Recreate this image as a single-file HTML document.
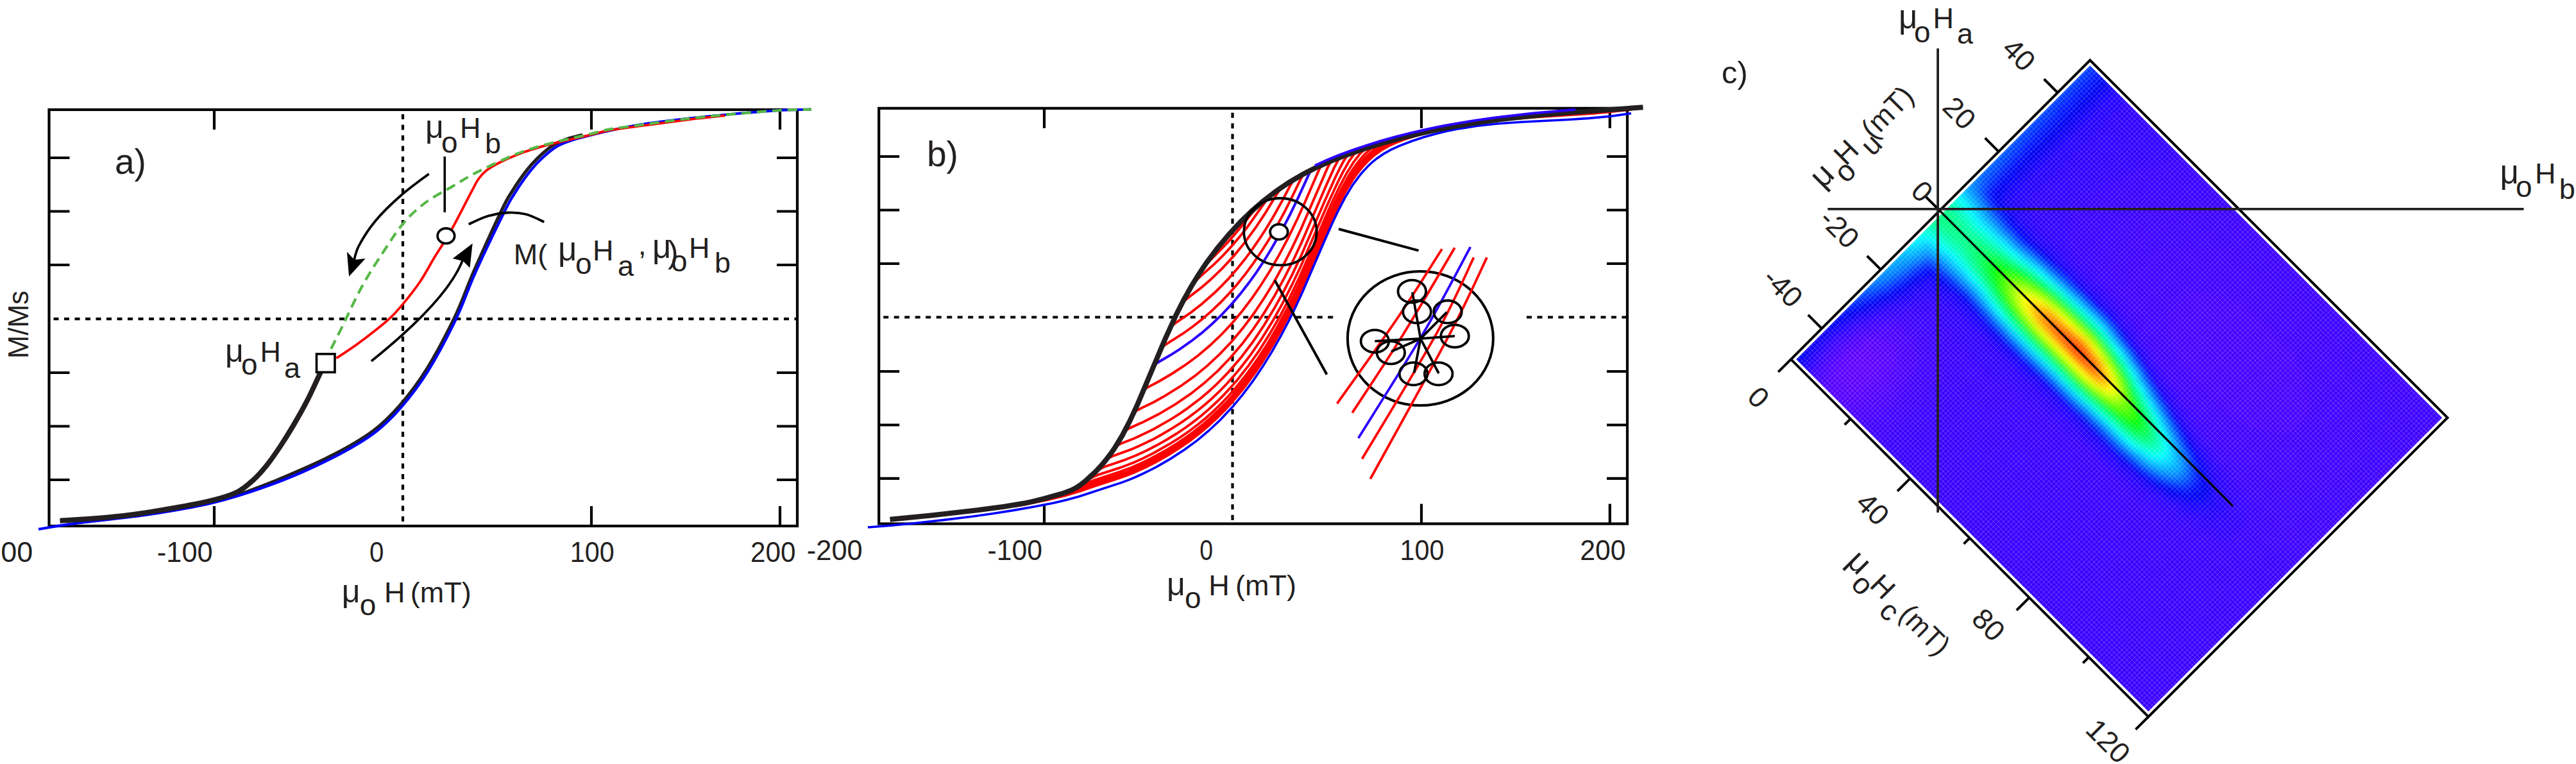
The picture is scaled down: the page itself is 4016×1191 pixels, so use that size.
<!DOCTYPE html>
<html><head><meta charset="utf-8"><style>
html,body{margin:0;padding:0;background:#fff;}
body{width:4016px;height:1191px;overflow:hidden;}
svg{display:block;}
text{font-family:"Liberation Sans",sans-serif;fill:#231f20;}
</style></head><body>
<svg width="4016" height="1191" viewBox="0 0 4016 1191">
<rect width="4016" height="1191" fill="#fff"/>
<rect x="76.5" y="171" width="1166.5" height="649" fill="none" stroke="#000" stroke-width="4.2"/><path d="M76.5 246h32M1243 246h-32M76.5 329.5h32M1243 329.5h-32M76.5 413h32M1243 413h-32M76.5 581h32M1243 581h-32M76.5 664.5h32M1243 664.5h-32M76.5 748h32M1243 748h-32M334 171v31M334 820v-31M922 171v31M922 820v-31M1216 171v31M1216 820v-31" stroke="#000" stroke-width="4.2" fill="none"/><path d="M76.5 497.2H1243M628 171V820" stroke="#000" stroke-width="4.2" stroke-dasharray="8 8.5" stroke-dashoffset="-7" fill="none"/><text x="244.8" y="875.5" font-size="45" textLength="86.9" lengthAdjust="spacingAndGlyphs">-100</text><text x="576" y="875.5" font-size="45" textLength="22.4" lengthAdjust="spacingAndGlyphs">0</text><text x="888.8" y="875.5" font-size="45" textLength="69" lengthAdjust="spacingAndGlyphs">100</text><text x="1169.9" y="875.5" font-size="45" textLength="70.5" lengthAdjust="spacingAndGlyphs">200</text><text x="51.3" y="875.5" font-size="45" text-anchor="end">-200</text><text transform="translate(43.6 559) rotate(-90)" font-size="45" textLength="106" lengthAdjust="spacingAndGlyphs">M/Ms</text><text x="532.7" y="938.5" font-size="50">μ</text><text x="560.7" y="958.5" font-size="46">o</text><text x="599" y="938.5" font-size="45">H</text><text x="639.7" y="938.5" font-size="45">(mT)</text><text x="179" y="270.5" font-size="55">a)</text><path d="M368.2 772.8C379.3 768.5 410 757.7 435.1 747.1C460.2 736.5 494.4 721.9 518.8 709.4C543.2 696.9 564.2 684.7 581.7 671.8C599.2 658.9 609.5 648.1 623.5 632C637.5 615.9 651.1 598.4 665.4 575.4C679.7 552.4 697 519.4 709.3 493.8C721.6 468.2 727.2 449.4 739.4 421.6C751.6 393.8 772.8 347.3 782.6 326.8C792.4 306.3 793.1 307.2 798.3 298.6C803.5 290 808.8 282.2 814 275C819.2 267.8 824.5 261.3 829.7 255.4C835 249.5 839.9 244.5 845.5 239.6C851.1 234.7 856.9 229.7 863.1 225.9C869.3 222.2 875.3 219.7 882.8 217.1C890.3 214.5 904 211.4 908.2 210.2" stroke="#231f20" stroke-width="5.2" fill="none"/><path d="M60 824.9C70.5 823.3 94.9 818.9 122.8 815.2C150.7 811.5 192.6 807.9 227.5 802.7C262.4 797.5 297.3 792.5 332.2 783.8C367.1 775.1 405.5 762.2 436.9 750.3C468.3 738.4 496.2 725.1 520.6 712.6C545 700.1 566 687.9 583.5 675C601 662.1 611.3 651.3 625.3 635.2C639.2 619.1 652.9 601.6 667.2 578.6C681.5 555.6 698.8 522.6 711.1 497C723.4 471.4 728.7 452.6 741.2 424.8C753.8 397 776.2 350.5 786.4 330C796.5 309.5 796.9 310.4 802.1 301.8C807.3 293.2 812.6 285.4 817.8 278.2C823 271 828.2 264.5 833.5 258.6C838.8 252.7 843.7 247.7 849.3 242.8C854.9 237.9 860.7 232.8 866.9 229.1C873.1 225.3 879.4 222.9 886.6 220.3C893.8 217.7 899.5 216.2 910.1 213.4C920.7 210.6 934.4 206.9 950 203.6C965.6 200.3 982.8 196.7 1003.5 193.5C1024.2 190.3 1050.6 187.2 1074.2 184.5C1097.8 181.8 1121.4 179.6 1145 177.5C1168.6 175.4 1195.6 173.2 1215.6 172C1235.6 170.8 1256.8 170.8 1265 170.6" stroke="#0000ff" stroke-width="4.2" fill="none"/><path d="M93.5 811.9C108.8 810.7 156.3 808.1 185.6 804.8C214.9 801.5 245 796.4 269.4 792.2C293.8 788 315.4 783.8 332.2 779.6C348.9 775.4 359.4 772.2 369.9 767C380.4 761.8 387.3 755.2 395 748.2C402.7 741.2 409 733.9 416 725.2C423 716.5 429.9 706.4 436.9 695.9C443.9 685.4 450.8 674.3 457.8 662.4C464.8 650.5 471.8 638.3 478.8 624.7C485.8 611.1 494.9 590.5 499.7 580.7C504.5 570.9 506.4 568.5 507.7 566" stroke="#231f20" stroke-width="8" fill="none"/><path d="M524.5 558.4C530.4 554.4 546.5 544.3 560 534.3C573.5 524.2 594.3 508.1 605.6 498.1C616.9 488.2 619.5 484.3 627.6 474.6C635.7 464.9 646.1 452.1 654.3 440C662.5 427.9 671 411.7 677 401.8C683 391.9 685.3 388.8 690.1 380.9C694.9 373 698.4 368.2 705.8 354.7C713.2 341.2 727.9 312.3 734.6 299.7C741.3 287.1 742.1 284.6 746 279C749.9 273.4 752.6 270.2 758 266C763.4 261.8 770.3 257.8 778.6 253.5C786.9 249.2 798.2 244.2 808 240.4C817.8 236.6 827.7 233.6 837.5 230.6C847.3 227.6 857.1 225.1 866.9 222.7C876.7 220.2 887.2 218 896.4 215.9C905.6 213.8 913 212.1 921.9 210C930.8 207.9 936.4 205.5 950 203.1C963.6 200.7 982.8 198.5 1003.5 195.7C1024.2 192.9 1053.1 188.9 1074.2 186.3C1095.3 183.7 1120.7 181.2 1130 180.2" stroke="#ff0000" stroke-width="3.8" fill="none"/><path d="M507.7 566C508.5 563.5 508.7 559.7 512.5 551.2C516.3 542.7 521.9 532.6 530.6 515.1C539.3 497.6 553.2 466.9 564.5 446.3C575.8 425.7 587.6 407.9 598.5 391.3C609.4 374.7 619 359.5 629.9 346.8C640.8 334.1 651.7 324.5 663.9 315.4C676.1 306.2 690.6 299.3 703.2 291.9C715.8 284.4 726.7 277.4 739.3 270.7C751.9 264 767.1 257 778.6 251.7C790.1 246.4 798.2 242.7 808 238.9C817.8 235.1 827.7 232.1 837.5 229.1C847.3 226.1 857.1 223.6 866.9 221.2C876.7 218.8 887.2 216.5 896.4 214.4C905.6 212.3 913 210.6 921.9 208.5C930.8 206.4 936.4 204 950 201.6C963.6 199.2 982.8 197 1003.5 194.2C1024.2 191.4 1050.6 187.6 1074.2 184.8C1097.8 182.1 1121.4 179.8 1145 177.7C1168.6 175.6 1195.6 173.2 1215.6 172C1235.6 170.8 1256.8 170.8 1265 170.6" stroke="#56b947" stroke-width="4.2" fill="none" stroke-dasharray="15 9"/><rect x="493.5" y="551.8" width="28.5" height="28.5" fill="#fff" stroke="#000" stroke-width="3.6"/><ellipse cx="695.4" cy="367.7" rx="13.3" ry="11.8" fill="#fff" stroke="#000" stroke-width="3.7"/><path d="M693.3 244V331" stroke="#000" stroke-width="3.6"/><path d="M668.7 270.9C661.4 276.6 638.6 292.8 624.7 305C610.8 317.2 596.3 331.1 585.4 344.2C574.5 357.3 565 372.5 559.3 383.5C553.6 394.5 552.4 405.6 551 410" stroke="#000" stroke-width="3.8" fill="none"/><path d="M540.9 392.6L544.1 431.1L569.7 403.1L552.5 405Z" fill="#000"/><path d="M578.9 563Q703.9 462.7 724 398" stroke="#000" stroke-width="3.8" fill="none"/><path d="M705.8 403.1L736.7 379.6L732.5 417.5L722 407Z" fill="#000"/><path d="M730.7 349.5C735.6 347.4 749.9 340 760 337C770.1 334 781.4 332 791.4 331.5C801.4 331 810.5 331.6 820 334C829.5 336.4 843.6 344 848.3 346" stroke="#000" stroke-width="3.8" fill="none"/><text x="663" y="215.4" font-size="50">μ</text><text x="688" y="238" font-size="46">o</text><text x="717" y="215.4" font-size="45">H</text><text x="756" y="239" font-size="45">b</text><text x="351" y="564" font-size="50">μ</text><text x="376" y="584" font-size="46">o</text><text x="405.5" y="564" font-size="45">H</text><text x="443" y="589" font-size="45">a</text><text x="800.8" y="412.4" font-size="45">M(</text><text x="870" y="406" font-size="51">μ</text><text x="897" y="427" font-size="46">o</text><text x="924" y="406" font-size="45">H</text><text x="963" y="430" font-size="45">a</text><text x="995" y="397" font-size="45">,</text><text x="1017" y="402" font-size="51">μ</text><text x="1041" y="410" font-size="50">)</text><text x="1046" y="423" font-size="46">o</text><text x="1074" y="402" font-size="45">H</text><text x="1114" y="425.4" font-size="45">b</text><rect x="1370.2" y="168.8" width="1166.8" height="647.7" fill="none" stroke="#000" stroke-width="4.2"/><path d="M1370.2 244h32M2537 244h-32M1370.2 327.5h32M2537 327.5h-32M1370.2 411h32M2537 411h-32M1370.2 579h32M2537 579h-32M1370.2 662.5h32M2537 662.5h-32M1370.2 745.9h32M2537 745.9h-32M1628 168.8v31M1628 816.5v-31M2216 168.8v31M2216 816.5v-31M2509.8 168.8v31M2509.8 816.5v-31" stroke="#000" stroke-width="4.2" fill="none"/><path d="M1370.2 494.5H2079M2373 494.5H2537M1921.5 168.8V816.5" stroke="#000" stroke-width="4.2" stroke-dasharray="8 8.5" stroke-dashoffset="-7" fill="none"/><text x="1257.8" y="872.5" font-size="45" textLength="86.9" lengthAdjust="spacingAndGlyphs">-200</text><text x="1539.5" y="872.5" font-size="45" textLength="85.4" lengthAdjust="spacingAndGlyphs">-100</text><text x="1870.2" y="872.5" font-size="45" textLength="20.8" lengthAdjust="spacingAndGlyphs">0</text><text x="2182.5" y="872.5" font-size="45" textLength="69" lengthAdjust="spacingAndGlyphs">100</text><text x="2463.2" y="872.5" font-size="45" textLength="71.2" lengthAdjust="spacingAndGlyphs">200</text><text x="1819" y="927.7" font-size="50">μ</text><text x="1847" y="947.7" font-size="46">o</text><text x="1884.2" y="927.7" font-size="45">H</text><text x="1926" y="927.7" font-size="45">(mT)</text><text x="1445" y="258.7" font-size="55">b)</text><path d="M1581 787.4L1582.5 789.2L1596 786.8L1633.5 779L1660.5 772.5L1684.5 765.3L1714.5 755.1L1744.5 745.5L1756.5 741.3L1768.5 736.4L1786.5 728.2L1803 719.8L1821 709.5L1839 698.2L1854 687.8L1869 676.4L1884 663.8L1897.5 651.4L1908 640.8L1918.5 629.6L1938 606.4L1957.5 580L1968 564.3L1977 550.1L1987.5 532.4L1998 513.5L2017.5 475.3L2034 439.3L2076 342.3L2088 317L2098.5 297.2L2110.5 277.8L2116.5 269.5L2124 260.2L2131.5 252.2L2139 245.1L2146.5 239.1L2154 233.9L2164.5 227.8L2175 222.9L2188.5 217.7L2205 212.3L2221.5 207.8L2241 203.2L2262 199L2286 194.8L2322 189.6L2359.5 185.4L2394 182.6L2484 176.7L2512.5 174.1L2544 170.6M1606 782.6L1607.5 784.3L1645 776.1L1667.5 770.2L1748.5 743.7L1763.5 738.1L1777 732.2L1796.5 722.8L1811.5 714.6L1829.5 703.9L1846 693L1861 682.2L1876 670.3L1889.5 658.5L1903 645.5L1915 633L1927 619.4L1939 604.7L1949.5 590.8L1960 575.9L1970.5 560L1981 543L1991.5 524.9L2008 494L2024.5 460L2038 429.8L2068 359.8L2081.5 330L2093.5 305.9L2104 287.4L2110 278.1L2116 269.7L2128 255.4L2140 243.9L2146 239L2153.5 233.8L2164 227.7L2174.5 222.7L2188 217.5L2204.5 212.2L2221 207.7L2240.5 203.2L2261.5 199L2285.5 194.7L2323 189.3L2362 185L2396.5 182.2L2485 176.3L2512 173.9L2543.5 170.4M1621 779L1622.5 780.7L1654 773.4L1672 768.2L1751.5 741.9L1768 735.4L1786 727.2L1801 719.6L1819 709.5L1835.5 699.3L1852 688L1867 676.8L1880.5 665.7L1894 653.5L1906 641.7L1918 628.9L1928.5 616.8L1940.5 601.9L1951 587.9L1961.5 572.9L1972 556.9L1982.5 539.7L1993 521.5L2008 493.2L2021.5 465.6L2035 435.9L2065 365.9L2077 338.9L2090.5 310.9L2102.5 289.1L2108.5 279.6L2114.5 271L2126.5 256.2L2138.5 244.4L2144.5 239.4L2152 234L2162.5 227.7L2173 222.7L2186.5 217.5L2201.5 212.7L2219.5 207.8L2239 203.3L2261.5 198.8L2285.5 194.6L2324.5 188.9L2365 184.4L2399.5 181.6L2485 175.8L2543.5 170.1M1636 775.1L1637.5 776.8L1661.5 770.7L1678 765.5L1715.5 752.6L1744 743.5L1756 739.3L1768 734.5L1795 721.8L1811.5 712.9L1828 703.1L1843 693.3L1858 682.7L1871.5 672.2L1885 660.8L1898.5 648.2L1910.5 636L1922.5 622.9L1933 610.4L1943.5 597.1L1954 582.8L1964.5 567.5L1975 551.1L1985.5 533.7L1994.5 517.8L2011 486.3L2026 455L2038 428L2068 358L2081.5 328.2L2092 307L2102.5 288.1L2108.5 278.6L2114.5 270L2126.5 255.2L2138.5 243.4L2144.5 238.5L2152 233.1L2162.5 226.9L2173 222L2186.5 217L2201.5 212.3L2219.5 207.6L2240.5 202.8L2263 198.3L2287 194.2L2327.5 188.3L2368 183.8L2404 180.8L2488 174.9L2543.5 169.7M1647 772.1L1648.5 773.8L1663.5 769.6L1711.5 753.2L1749 741.1L1771.5 732.2L1800 718.5L1816.5 709.3L1833 699.2L1848 689.2L1861.5 679.4L1875 668.6L1888.5 656.9L1900.5 645.5L1912.5 633.2L1923 621.6L1933.5 609.1L1944 595.7L1954.5 581.4L1965 566L1975.5 549.6L1986 532.1L1995 516.2L2008.5 490.6L2022 462.9L2035.5 433L2076 339.4L2089.5 311.1L2101.5 289.1L2107.5 279.4L2113.5 270.7L2125.5 255.7L2137.5 243.6L2143.5 238.6L2151 233.1L2160 227.6L2170.5 222.6L2182.5 217.9L2199 212.8L2218.5 207.6L2239.5 202.9L2263.5 198.2L2287.5 194L2329.5 188L2371.5 183.3L2407.5 180.3L2490 174.4L2544 169.5M1658 768.8L1659.5 770.5L1664 769.1L1707.5 753.9L1752.5 739.2L1775 730L1802 716.8L1818.5 707.4L1835 697.3L1850 687.1L1863.5 677.2L1877 666.3L1890.5 654.4L1902.5 642.9L1914.5 630.4L1925 618.6L1935.5 606L1946 592.4L1956.5 577.9L1967 562.3L1976 548.2L1986.5 530.6L1995.5 514.6L2010.5 486L2025.5 454.7L2039 424.3L2067.5 357.8L2081 327.9L2091.5 306.6L2102 287.6L2112.5 271.4L2124.5 256.1L2136.5 243.9L2142.5 238.7L2150 233.1L2159 227.6L2169.5 222.5L2181.5 217.9L2198 212.8L2217.5 207.7L2238.5 203L2262.5 198.3L2286.5 194.1L2328.5 188L2373.5 183L2409.5 179.9L2492 173.9L2544.5 169.3M1672 763.3L1673.5 764.8L1700.5 754.4L1744 740.3L1757.5 735.5L1769.5 730.6L1783 724.4L1798 717L1810 710.5L1826.5 700.7L1841.5 691.1L1855 681.7L1868.5 671.4L1882 660.2L1894 649.3L1906 637.5L1918 624.7L1928.5 612.6L1939 599.7L1958.5 573.1L1969 557.4L1978 543L1988.5 525.2L1997.5 509.1L2012.5 480.1L2027.5 448.5L2066.5 358.2L2080 328.2L2090.5 306.7L2101 287.4L2111.5 270.9L2123.5 255.4L2135.5 242.9L2141.5 237.7L2149 232.1L2158 226.6L2168.5 221.8L2180.5 217.5L2195.5 213L2216.5 207.7L2239 202.7L2264.5 197.8L2290 193.4L2335 187L2381.5 181.9L2416 178.8L2543.5 169M1685.5 755.3L1687 756.6L1694.5 753L1703.5 749.4L1745.5 735.6L1763.5 729L1777 723.1L1793.5 715.1L1805.5 708.8L1819 701.1L1834 691.9L1847.5 682.9L1861 673.1L1874.5 662.4L1886.5 652L1898.5 640.8L1910.5 628.7L1922.5 615.5L1942 591.7L1961.5 564.6L1972 548.5L1981 533.9L1999 502.1L2014 472.9L2027.5 444.3L2066.5 354.1L2080 324L2090.5 302.5L2101 283.3L2111.5 266.8L2117.5 258.6L2123.5 251.3L2129.5 244.7L2135.5 238.9L2146 230.6L2155 225.4L2164 221.7L2177.5 217.3L2195.5 212.5L2218 207.1L2243.5 201.6L2269 196.8L2296 192.3L2342.5 185.9L2393.5 180.3L2444.5 175.9L2543.5 168.7M1698 744.8L1699.5 746L1705.5 742.9L1711.5 740.4L1747.5 728.7L1767 721.2L1782 714.5L1798.5 706.3L1825.5 690.9L1840.5 681.3L1854 672L1867.5 661.8L1879.5 651.9L1891.5 641.2L1903.5 629.6L1915.5 617L1926 605.1L1942.5 584.7L1959 562L1975.5 536.7L1990.5 511.3L2007 480.6L2023.5 446.7L2037 416.6L2073 333.1L2083.5 310.4L2092.5 292.4L2103 273.6L2109 264.2L2115 255.6L2121 248L2127 241.2L2133 235.4L2137.5 231.8L2145 227.5L2154 223.9L2170.5 218.9L2194.5 212.5L2218.5 206.9L2244 201.5L2269.5 196.7L2296.5 192.2L2344.5 185.6L2398.5 179.7L2457 174.7L2544 168.5M1712.7 730.4L1714.2 731.4L1721.7 727.7L1751.7 717.7L1772.7 709.3L1787.7 702.2L1802.7 694.6L1819.2 685.2L1834.2 676L1847.7 667L1861.2 657.1L1873.2 647.7L1885.2 637.4L1897.2 626.3L1907.7 615.8L1919.7 602.9L1930.2 590.7L1946.7 569.7L1963.2 546.3L1979.7 520.3L1994.7 494.3L2009.7 465.8L2024.7 434.7L2038.2 404.4L2071.2 327.6L2080.2 307.8L2089.2 289.3L2099.7 269.7L2110.2 252.9L2119.2 241L2123.7 236.4L2126.7 234L2134.2 230L2144.7 226.3L2168.7 219.3L2195.7 212.2L2219.7 206.6L2243.7 201.5L2269.2 196.7L2294.7 192.5L2344.2 185.6L2398.2 179.7L2458.2 174.6L2543.7 168.5M1727.3 713.1L1728.8 714.1L1734.8 711L1763.3 700.7L1782.8 692.1L1799.3 683.9L1811.3 677.3L1826.3 668.4L1841.3 658.8L1854.8 649.4L1866.8 640.3L1878.8 630.5L1889.3 621.2L1901.3 609.8L1911.8 599L1922.3 587.4L1932.8 575L1950.8 551.6L1967.3 527.5L1983.8 500.9L1998.8 474.2L2013.8 445L2027.3 416.5L2069.3 319.4L2085.8 283.6L2094.8 266L2103.8 250.4L2109.8 241.8L2114.3 237.5L2117.3 235.7L2121.8 233.7L2136.8 228.7L2163.8 220.6L2190.8 213.4L2214.8 207.7L2238.8 202.5L2264.3 197.6L2289.8 193.3L2339.3 186.2L2394.8 180L2456.3 174.7L2544.8 168.5M1741 693.5L1742.5 694.3L1747 691.7L1768 683.5L1783 676.6L1798 669.2L1825 653.9L1838.5 645.3L1850.5 637.1L1873 620L1885 609.7L1895.5 600.1L1906 589.7L1916.5 578.6L1936 555.7L1954 531.8L1970.5 507.3L1987 480.1L2002 452.9L2015.5 426.2L2029 397.4L2066.5 310.4L2081.5 277.2L2089 261.8L2095 250.6L2099.5 243.9L2102.5 241.1L2105.5 239.4L2110 237.6L2134 229.6L2159.5 221.8L2185 214.9L2209 209L2233 203.7L2258.5 198.7L2284 194.2L2335 186.8L2392 180.3L2453.5 174.9L2543.5 168.5M1754.6 669.8L1756.1 670.3L1760.6 667.6L1783.1 657.6L1805.6 646.1L1832.6 630.1L1856.6 613.7L1877.6 597.1L1898.6 578.1L1918.1 557.8L1937.6 534.7L1954.1 512.6L1970.6 488.1L1987.1 460.9L2002.1 433.7L2015.6 407L2029.1 378.1L2066.6 291.2L2080.1 261.2L2086.1 249.8L2087.6 247.8L2090.6 245.2L2093.6 243.6L2101.1 240.7L2128.1 231.5L2152.1 224L2177.6 216.8L2201.6 210.8L2227.1 205L2252.6 199.8L2278.1 195.2L2330.6 187.3L2389.1 180.6L2452.1 175L2543.6 168.5M1768.5 641.2L1770 641.6L1773 639.4L1798.5 626.9L1816.5 616.9L1840.5 602L1863 585.9L1882.5 569.9L1902 551.7L1920 532.7L1938 511.1L1954.5 489L1969.5 466.8L1984.5 442.4L1999.5 415.5L2014.5 386.2L2028 357.6L2070 260.7L2074.5 252.8L2077.5 250.2L2091 244.5L2116.5 235.3L2142 227.1L2167.5 219.6L2193 212.9L2218.5 206.8L2244 201.5L2271 196.4L2298 192L2325 188.1L2385 181L2449.5 175.3L2544 168.5M1783.8 606.3L1785.3 606.6L1788.3 604.3L1807.8 594L1827.3 582.5L1848.3 568.7L1867.8 554.2L1885.8 539.1L1903.8 522L1920.3 504.4L1936.8 484.7L1951.8 464.9L1965.3 445.3L1980.3 421.5L1993.8 398.1L2008.8 369.8L2022.3 342L2034.3 315.5L2056.8 263.7L2059.8 258.9L2062.8 256.4L2077.8 249.7L2101.8 240.5L2127.3 231.7L2154.3 223.4L2179.8 216.3L2206.8 209.5L2233.8 203.5L2262.3 198L2289.3 193.4L2317.8 189.1L2347.8 185.1L2379.3 181.6L2446.8 175.5L2544.3 168.5M1811.3 540.5L1812.8 540.7L1817.3 537.1L1844.3 520L1859.3 509.3L1874.3 497.5L1889.3 484.4L1902.8 471.5L1916.3 457.4L1928.3 443.7L1941.8 426.9L1953.8 410.6L1967.3 390.8L1979.3 371.7L1991.3 351.1L2001.8 331.8L2013.8 308.2L2027.3 280.1L2030.3 274.8L2031.8 272.8L2034.8 270.1L2042.3 265.9L2061.8 256.6L2084.3 247.1L2108.3 238.2L2135.3 229.2L2162.3 221L2190.8 213.4L2219.3 206.7L2249.3 200.4L2277.8 195.3L2307.8 190.5L2339.3 186.2L2372.3 182.3L2442.8 175.8L2544.8 168.5M1825.5 508L1827 508.2L1831.5 504.4L1857 486.9L1873.5 474L1894.5 455.5L1905 445.2L1915.5 434.1L1929 418.7L1941 403.8L1953 387.6L1965 370.2L1975.5 353.8L1986 336.3L1998 314.8L2011.5 289.2L2016 282.2L2019 279.2L2025 275.2L2038.5 267.9L2053.5 260.4L2073 251.7L2095.5 242.8L2121 233.8L2148 225.2L2173.5 217.9L2200.5 211L2229 204.6L2257.5 198.9L2286 193.9L2314.5 189.5L2344.5 185.6L2376 181.9L2445 175.6L2544 168.5M1844.3 469.7L1845.8 469.9L1850.3 465.8L1872.8 448.4L1886.3 436.8L1905.8 418.1L1923.8 398.6L1940.3 378.4L1956.8 356L1971.8 333.4L1991.3 301.4L1994.3 297.1L1997.3 293.5L2000.3 290.8L2006.3 286.5L2027.3 273.9L2048.3 262.9L2069.3 253.3L2090.3 244.8L2112.8 236.6L2136.8 228.7L2162.3 221L2187.8 214.2L2213.3 208L2240.3 202.2L2267.3 197.1L2294.3 192.6L2322.8 188.4L2351.3 184.7L2382.8 181.2L2448.8 175.3L2544.8 168.5M1862.6 437.5L1864.1 437.9L1870.1 432L1892.6 412.1L1906.1 398.9L1919.6 384.4L1933.1 368.6L1945.1 353.3L1973.6 313L1978.1 307.7L1982.6 303.4L1991.6 296.5L2003.6 288.3L2015.6 280.7L2029.1 272.9L2042.6 265.7L2056.1 259.2L2084.6 247L2105.6 239.1L2128.1 231.5L2152.1 224L2176.1 217.2L2200.1 211.1L2225.6 205.3L2251.1 200.1L2276.6 195.5L2329.1 187.5L2387.6 180.7L2452.1 175L2543.6 168.5M1880.9 409.7L1882.4 410.1L1904.9 387.3L1916.9 374.6L1931.9 357.2L1952.9 330.9L1960.4 322.2L1969.4 313.6L1979.9 305.1L1993.4 295.2L2006.9 286.1L2020.4 277.9L2035.4 269.5L2050.4 261.9L2066.9 254.3L2083.4 247.5L2101.4 240.6L2122.4 233.3L2144.9 226.2L2167.4 219.6L2189.9 213.6L2212.4 208.2L2236.4 203L2260.4 198.3L2285.9 193.9L2336.9 186.5L2392.4 180.3L2453.9 174.9L2543.9 168.5M1899.2 385.3L1900.7 385.7L1920.2 364.3L1942.7 338.7L1954.7 326.3L1963.7 318.2L1974.2 309.5L1996.7 292.9L2010.2 284L2023.7 275.9L2037.2 268.5L2052.2 261L2067.2 254.2L2083.7 247.3L2100.2 241.1L2119.7 234.2L2160.2 221.6L2181.2 215.9L2203.7 210.3L2248.7 200.5L2296.7 192.2L2344.7 185.5L2398.7 179.7L2458.7 174.5L2544.2 168.5M1917.5 363.5L1919 363.9L1944.5 336L1953.5 327.2L1964 317.9L1976 308.1L1988 299L2000 290.7L2013.5 282L2027 274.1L2040.5 266.8L2054 260.2L2069 253.4L2085.5 246.6L2102 240.4L2139.5 227.8L2178.5 216.6L2220.5 206.4L2264 197.7L2309 190.3L2355.5 184.2L2406.5 178.9L2462 174.3L2544.5 168.5M1933.2 346.6L1934.7 347L1945.2 335.6L1954.2 326.7L1964.7 317.3L1978.2 306.4L1990.2 297.4L2002.2 289.2L2014.2 281.6L2027.7 273.7L2041.2 266.5L2054.7 259.8L2083.2 247.5L2117.7 234.9L2155.2 223.1L2192.7 212.9L2233.2 203.7L2273.7 196L2317.2 189.2L2362.2 183.5L2411.7 178.4L2465.7 174L2543.7 168.5M1951 329.3L1952.5 329.7L1960 321.8L1969 313.8L1982.5 303.1L1996 293.4L2008 285.4L2020 278.1L2044 265L2071 252.6L2101 240.8L2137 228.6L2173 218.1L2209 209L2246.5 201L2285.5 194L2327.5 187.7L2371 182.5L2417.5 177.9L2468.5 173.8L2543.5 168.5" stroke="#ff0000" stroke-width="3.9" fill="none"/><path d="M1353 822L1389 819.2L1427 815.5L1469 810.9L1513 805.5L1547 800.8L1581 795.4L1613 789.8L1643 783.9L1663 779.2L1683 773.7L1749 752.1L1761 747.6L1773 742.5L1789 735L1803 727.8L1825 715.1L1847 700.8L1867 686.1L1885 671L1903 654L1921 634.8L1937 615.7L1953 594.4L1969 570.8L1983 548.2L1997 523.5L2011 496.6L2021 476L2031 454.2L2065 375.2L2077 348.1L2087 327.1L2097 307.9L2109 288.1L2121 271.9L2133 258.7L2139 253.2L2147 246.7L2157 239.9L2169 233.2L2183 226.9L2201 220L2219 214L2237 208.9L2255 204.6L2275 200.6L2303 196.3L2335 192.8L2371 190.2L2445 186.5L2477 184.4L2511 181.2L2543 176.7" stroke="#0000ff" stroke-width="3.6" fill="none"/><path d="M1799.9 567.8L1801.4 568L1804.4 565.5L1823.9 554.1L1838.9 544.6L1856.9 532L1873.4 519.2L1889.9 504.8L1904.9 490.4L1919.9 474.3L1933.4 458.4L1946.9 441.1L1958.9 424.3L1970.9 406.2L1982.9 386.6L1997.9 360.1L2011.4 334L2023.4 309.1L2041.4 269.8L2044.4 265.7L2048.9 262.7L2068.4 253.7L2090.9 244.5L2114.9 235.9L2141.9 227.1L2168.9 219.2L2195.9 212.1L2224.4 205.5L2252.9 199.7L2281.4 194.6L2311.4 190L2341.4 185.9L2374.4 182.1L2443.4 175.7L2543.9 168.5" stroke="#2a00ff" stroke-width="4" fill="none"/><path d="M1387.5 809.8L1451.5 803.5L1527.5 794.8L1565.5 789.8L1595.5 784.8L1609.5 781.8L1627.5 777.3L1653.5 770.2L1661.5 767.6L1669.5 764.5L1677.5 760.5L1683.5 756.7L1691.5 750.5L1707.5 735.8L1715.5 727.3L1723.5 717.9L1731.5 707.5L1737.5 698.9L1749.5 679.2L1761.5 656.1L1773.5 630.1L1815.5 530.7L1833.5 491L1845.5 467.4L1857.5 446L1869.5 426.6L1881.5 408.8L1897.5 387.4L1915.5 365.8L1933.5 346.3L1951.5 328.9L1969.5 313.3L1989.5 297.9L2009.5 284.5L2031.5 271.6L2051.5 261.4L2073.5 251.5L2097.5 242.1L2125.5 232.3L2153.5 223.6L2183.5 215.3L2213.5 208L2245.5 201.2L2275.5 195.6L2305.5 190.8L2337.5 186.4L2373.5 182.2L2409.5 178.6L2447.5 175.4L2561.5 167.3" stroke="#231f20" stroke-width="8" fill="none"/><path d="M2050 258.1L2068 249.8L2086 242.4L2106 235L2130 226.8L2152 220L2176 213.3L2200 207.1L2226 201.2L2250 196.3L2276 191.6L2302 187.4L2330 183.4L2388 176.7L2456 170.7" stroke="#2a00ff" stroke-width="4" fill="none"/><ellipse cx="1996" cy="361.2" rx="56.7" ry="52.2" fill="none" stroke="#000" stroke-width="3.8"/><ellipse cx="1993.9" cy="361.5" rx="13.8" ry="11.8" fill="#fff" stroke="#000" stroke-width="3.8"/><path d="M2087 357L2211.6 390.6M1987.4 436.9L2068.5 583.7" stroke="#000" stroke-width="4"/><ellipse cx="2214.4" cy="527.6" rx="113.5" ry="104.5" fill="#fff" stroke="#000" stroke-width="4"/><path d="M2084.6 629.1C2100.5 606.6 2152.8 534.1 2180 494C2207.2 453.9 2236.7 405.9 2248 388.3" stroke="#ff0000" stroke-width="3.8" fill="none"/><path d="M2108.2 643.5C2121.6 622.9 2161.8 562.8 2188.4 519.9C2215 477 2254.7 408.5 2267.9 386.2" stroke="#ff0000" stroke-width="3.8" fill="none"/><path d="M2117.7 682.9C2134.5 655.7 2189.6 569.5 2218.7 519.9C2247.8 470.3 2280.1 407.6 2292.4 385.1" stroke="#2a00ff" stroke-width="3.8" fill="none"/><path d="M2123.5 715.4C2142.8 682.8 2210.6 572.2 2239.6 519.9C2268.6 467.6 2287.9 421.1 2297.6 401.4" stroke="#ff0000" stroke-width="3.8" fill="none"/><path d="M2136.4 746.5C2157.1 708.7 2230.3 577.4 2260.6 519.9C2290.9 462.4 2308.5 421.1 2318.1 401.4" stroke="#ff0000" stroke-width="3.8" fill="none"/><ellipse cx="2201.3" cy="454.2" rx="21.8" ry="17.6" fill="none" stroke="#000" stroke-width="3.8"/><ellipse cx="2209.1" cy="486.1" rx="21.8" ry="17.6" fill="none" stroke="#000" stroke-width="3.8"/><ellipse cx="2257" cy="486.1" rx="21.8" ry="17.6" fill="none" stroke="#000" stroke-width="3.8"/><ellipse cx="2268.1" cy="523.9" rx="21.8" ry="17.6" fill="none" stroke="#000" stroke-width="3.8"/><ellipse cx="2143.4" cy="531.9" rx="21.8" ry="17.6" fill="none" stroke="#000" stroke-width="3.8"/><ellipse cx="2168.3" cy="549.8" rx="21.8" ry="17.6" fill="none" stroke="#000" stroke-width="3.8"/><ellipse cx="2203.6" cy="582.7" rx="21.8" ry="17.6" fill="none" stroke="#000" stroke-width="3.8"/><ellipse cx="2242.7" cy="582.7" rx="21.8" ry="17.6" fill="none" stroke="#000" stroke-width="3.8"/><path d="M2214.6 527.9L2201.9 455.6M2214.6 527.9L2255.7 486.7M2214.6 527.9L2268 523.9M2214.6 527.9L2143.4 531.9M2214.6 527.9L2169 547.9M2214.6 527.9L2204.6 581.3M2214.6 527.9L2243 582" stroke="#000" stroke-width="3.8" fill="none" stroke-linecap="butt"/><defs><clipPath id="cpc"><rect x="9.4" y="-325.6" width="776.3" height="647.6"/></clipPath>
<filter id="blr" x="-5%" y="-5%" width="110%" height="110%"><feGaussianBlur stdDeviation="4"/></filter>
<pattern id="grd" width="5.55" height="5.55" patternUnits="userSpaceOnUse"><path d="M0 0.5H5.55M0.5 0V5.55" stroke="#fff" stroke-opacity="0.24" stroke-width="0.8"/></pattern></defs><g transform="translate(3021.5 325.8) rotate(45)"><g clip-path="url(#cpc)"><g filter="url(#blr)" shape-rendering="crispEdges"><path fill="#0014ff" d="M-6.6 330h8v8h-8zM-6.6 234h8v8h-8zM1.4 218h8v8h-8zM9.4 202h8v8h-8zM25.4 162h8v8h-8zM33.4 138h8v8h-8zM41.4 106h8v8h-8zM41.4 98h8v8h-8zM65.4 66h8v8h-8zM217.4 66h48v8h-48zM521.4 58h8v8h-8zM577.4 34h8v8h-8zM561.4 -6h8v8h-8zM513.4 -22h8v8h-8zM457.4 -38h8v8h-8zM425.4 -46h8v8h-8zM121.4 -62h16v8h-16zM289.4 -70h24v8h-24zM33.4 -86h8v8h-8zM33.4 -94h8v8h-8zM25.4 -190h8v8h-8zM25.4 -198h8v8h-8zM25.4 -206h8v8h-8zM25.4 -214h8v8h-8zM25.4 -222h8v8h-8zM25.4 -230h8v8h-8zM25.4 -238h8v8h-8zM25.4 -246h8v8h-8zM25.4 -254h8v8h-8zM25.4 -262h8v8h-8zM25.4 -270h8v8h-8zM25.4 -278h8v8h-8zM25.4 -286h8v8h-8zM25.4 -294h8v8h-8zM25.4 -302h8v8h-8zM25.4 -310h8v8h-8zM25.4 -318h8v8h-8zM25.4 -326h8v8h-8zM25.4 -334h8v8h-8zM25.4 -342h8v8h-8z"/><path fill="#000ffa" d="M1.4 330h8v8h-8zM-6.6 314h8v8h-8zM-6.6 306h8v8h-8zM-6.6 250h8v8h-8zM-6.6 242h8v8h-8zM1.4 226h8v8h-8zM9.4 210h8v8h-8zM17.4 186h8v8h-8zM25.4 170h8v8h-8zM33.4 146h8v8h-8zM41.4 114h8v8h-8zM49.4 82h8v8h-8zM73.4 66h16v8h-16zM185.4 66h24v8h-24zM273.4 66h96v8h-96zM529.4 58h8v8h-8zM553.4 50h8v8h-8zM569.4 42h8v8h-8zM585.4 26h8v8h-8zM585.4 10h8v8h-8zM577.4 2h8v8h-8zM545.4 -14h8v8h-8zM489.4 -30h8v8h-8zM65.4 -70h8v8h-8zM225.4 -70h40v8h-40zM313.4 -70h8v8h-8zM33.4 -110h8v8h-8zM33.4 -118h8v8h-8zM33.4 -126h8v8h-8zM33.4 -134h8v8h-8zM33.4 -142h8v8h-8zM33.4 -150h8v8h-8z"/><path fill="#0005f5" d="M9.4 330h8v8h-8zM1.4 306h8v8h-8zM1.4 298h8v8h-8zM1.4 290h8v8h-8zM1.4 258h8v8h-8zM1.4 250h8v8h-8zM9.4 226h8v8h-8zM17.4 202h8v8h-8zM25.4 178h8v8h-8zM33.4 154h8v8h-8zM41.4 130h8v8h-8zM49.4 98h8v8h-8zM57.4 74h8v8h-8zM105.4 66h16v8h-16zM145.4 66h16v8h-16zM473.4 66h24v8h-24zM537.4 58h8v8h-8zM561.4 50h8v8h-8zM577.4 42h8v8h-8zM593.4 26h8v8h-8zM593.4 10h8v8h-8zM585.4 2h8v8h-8zM553.4 -14h8v8h-8zM89.4 -70h8v8h-8zM177.4 -70h16v8h-16zM329.4 -70h8v8h-8zM49.4 -78h8v8h-8zM41.4 -86h8v8h-8zM41.4 -94h8v8h-8zM41.4 -102h8v8h-8zM41.4 -110h8v8h-8zM41.4 -118h8v8h-8zM41.4 -126h8v8h-8z"/><path fill="#0a00f5" d="M17.4 330h8v8h-8zM9.4 298h8v8h-8zM9.4 290h8v8h-8zM9.4 258h8v8h-8zM9.4 250h8v8h-8zM17.4 218h8v8h-8zM25.4 194h8v8h-8zM49.4 122h8v8h-8zM57.4 90h8v8h-8zM89.4 74h8v8h-8zM521.4 66h8v8h-8zM553.4 58h8v8h-8zM577.4 50h8v8h-8zM601.4 34h8v8h-8zM609.4 18h8v8h-8zM585.4 -6h8v8h-8zM569.4 -14h8v8h-8zM481.4 -38h8v8h-8zM449.4 -46h8v8h-8zM417.4 -54h8v8h-8zM345.4 -70h8v8h-8zM73.4 -78h16v8h-16zM49.4 -102h8v8h-8zM49.4 -110h8v8h-8zM49.4 -118h8v8h-8zM49.4 -126h8v8h-8zM49.4 -134h8v8h-8zM49.4 -142h8v8h-8zM49.4 -150h8v8h-8z"/><path fill="#1900fa" d="M25.4 330h8v8h-8zM17.4 306h8v8h-8zM17.4 298h8v8h-8zM17.4 242h8v8h-8zM17.4 234h8v8h-8zM25.4 210h8v8h-8zM33.4 186h8v8h-8zM49.4 146h8v8h-8zM57.4 122h8v8h-8zM65.4 90h8v8h-8zM73.4 82h16v8h-16zM121.4 74h32v8h-32zM369.4 74h120v8h-120zM545.4 66h8v8h-8zM569.4 58h8v8h-8zM617.4 26h8v8h-8zM617.4 18h8v8h-8zM609.4 2h8v8h-8zM521.4 -30h8v8h-8zM361.4 -70h8v8h-8zM113.4 -78h8v8h-8zM169.4 -78h40v8h-40zM313.4 -78h8v8h-8zM73.4 -86h8v8h-8zM57.4 -110h8v8h-8zM57.4 -118h8v8h-8zM57.4 -126h8v8h-8zM57.4 -134h8v8h-8zM57.4 -142h8v8h-8zM57.4 -150h8v8h-8zM57.4 -158h8v8h-8zM57.4 -166h8v8h-8zM57.4 -174h8v8h-8zM57.4 -182h8v8h-8zM57.4 -190h8v8h-8zM57.4 -198h8v8h-8zM57.4 -206h8v8h-8zM57.4 -214h8v8h-8zM57.4 -222h8v8h-8zM57.4 -230h8v8h-8zM57.4 -238h8v8h-8zM57.4 -246h8v8h-8zM57.4 -254h8v8h-8zM57.4 -262h8v8h-8zM57.4 -270h8v8h-8zM57.4 -278h8v8h-8zM57.4 -286h8v8h-8zM57.4 -294h8v8h-8zM57.4 -302h8v8h-8zM57.4 -310h8v8h-8zM57.4 -318h8v8h-8zM57.4 -326h8v8h-8zM57.4 -334h8v8h-8zM57.4 -342h8v8h-8z"/><path fill="#2800ff" d="M33.4 330h8v8h-8zM25.4 306h8v8h-8zM25.4 298h8v8h-8zM25.4 234h8v8h-8zM33.4 202h8v8h-8zM41.4 186h8v8h-8zM49.4 162h8v8h-8zM57.4 146h8v8h-8zM65.4 130h8v8h-8zM73.4 114h8v8h-8zM73.4 106h8v8h-8zM81.4 98h8v8h-8zM89.4 90h32v8h-32zM289.4 82h208v8h-208zM537.4 74h16v8h-16zM569.4 66h16v8h-16zM593.4 58h16v8h-16zM617.4 50h8v8h-8zM625.4 42h16v8h-16zM633.4 34h16v8h-16zM641.4 26h8v8h-8zM641.4 18h16v8h-16zM641.4 10h8v8h-8zM633.4 2h8v8h-8zM617.4 -6h16v8h-16zM601.4 -14h16v8h-16zM585.4 -22h8v8h-8zM553.4 -30h16v8h-16zM513.4 -38h16v8h-16zM481.4 -46h16v8h-16zM449.4 -54h8v8h-8zM417.4 -62h8v8h-8zM385.4 -70h8v8h-8zM345.4 -78h16v8h-16zM121.4 -86h192v8h-192zM97.4 -94h24v8h-24zM81.4 -102h16v8h-16zM81.4 -110h8v8h-8zM81.4 -118h8v8h-8zM81.4 -126h8v8h-8zM73.4 -134h16v8h-16zM73.4 -142h16v8h-16zM73.4 -150h16v8h-16zM73.4 -158h16v8h-16zM73.4 -166h16v8h-16zM73.4 -174h16v8h-16zM73.4 -182h16v8h-16zM73.4 -190h16v8h-16zM73.4 -198h16v8h-16zM73.4 -206h16v8h-16zM73.4 -214h16v8h-16zM73.4 -222h16v8h-16zM73.4 -230h16v8h-16zM73.4 -238h16v8h-16zM73.4 -246h16v8h-16zM73.4 -254h16v8h-16zM73.4 -262h16v8h-16zM73.4 -270h16v8h-16zM73.4 -278h16v8h-16zM73.4 -286h16v8h-16zM81.4 -294h8v8h-8zM81.4 -302h8v8h-8zM81.4 -310h8v8h-8zM81.4 -318h8v8h-8zM81.4 -326h8v8h-8zM81.4 -334h8v8h-8zM81.4 -342h16v8h-16z"/><path fill="#3200ff" d="M41.4 330h8v8h-8zM33.4 306h8v8h-8zM33.4 226h8v8h-8zM41.4 202h8v8h-8zM49.4 178h8v8h-8zM57.4 162h8v8h-8zM65.4 154h8v8h-8zM65.4 146h8v8h-8zM73.4 138h8v8h-8zM81.4 130h8v8h-8zM81.4 122h16v8h-16zM169.4 122h72v8h-72zM89.4 114h176v8h-176zM97.4 106h216v8h-216zM121.4 98h288v8h-288zM345.4 90h208v8h-208zM545.4 82h48v8h-48zM577.4 74h40v8h-40zM609.4 66h40v8h-40zM625.4 58h32v8h-32zM649.4 50h24v8h-24zM657.4 42h24v8h-24zM665.4 34h24v8h-24zM665.4 26h24v8h-24zM665.4 18h24v8h-24zM665.4 10h24v8h-24zM657.4 2h24v8h-24zM649.4 -6h24v8h-24zM633.4 -14h24v8h-24zM609.4 -22h24v8h-24zM585.4 -30h24v8h-24zM545.4 -38h24v8h-24zM505.4 -46h16v8h-16zM473.4 -54h16v8h-16zM433.4 -62h16v8h-16zM409.4 -70h8v8h-8zM369.4 -78h24v8h-24zM329.4 -86h24v8h-24zM193.4 -94h112v8h-112zM129.4 -102h80v8h-80zM121.4 -110h56v8h-56zM113.4 -118h56v8h-56zM113.4 -126h48v8h-48zM113.4 -134h48v8h-48zM113.4 -142h48v8h-48zM113.4 -150h40v8h-40zM105.4 -158h48v8h-48zM105.4 -166h48v8h-48zM105.4 -174h48v8h-48zM105.4 -182h48v8h-48zM113.4 -190h40v8h-40zM113.4 -198h48v8h-48zM113.4 -206h48v8h-48zM113.4 -214h48v8h-48zM113.4 -222h48v8h-48zM113.4 -230h48v8h-48zM113.4 -238h56v8h-56zM113.4 -246h56v8h-56zM113.4 -254h56v8h-56zM113.4 -262h64v8h-64zM121.4 -270h56v8h-56zM121.4 -278h64v8h-64zM121.4 -286h64v8h-64zM121.4 -294h72v8h-72zM121.4 -302h72v8h-72zM121.4 -310h80v8h-80zM121.4 -318h80v8h-80zM129.4 -326h80v8h-80zM129.4 -334h80v8h-80zM129.4 -342h88v8h-88z"/><path fill="#3c00ff" d="M49.4 330h8v8h-8zM161.4 330h24v8h-24zM49.4 322h8v8h-8zM169.4 322h24v8h-24zM41.4 314h8v8h-8zM169.4 314h32v8h-32zM41.4 306h8v8h-8zM177.4 306h24v8h-24zM177.4 298h24v8h-24zM185.4 290h24v8h-24zM33.4 282h8v8h-8zM185.4 282h24v8h-24zM33.4 274h8v8h-8zM185.4 274h24v8h-24zM33.4 266h8v8h-8zM185.4 266h24v8h-24zM33.4 258h8v8h-8zM185.4 258h24v8h-24zM33.4 250h8v8h-8zM185.4 250h24v8h-24zM185.4 242h24v8h-24zM185.4 234h24v8h-24zM185.4 226h24v8h-24zM41.4 218h8v8h-8zM185.4 218h24v8h-24zM177.4 210h24v8h-24zM49.4 202h8v8h-8zM177.4 202h24v8h-24zM49.4 194h8v8h-8zM169.4 194h24v8h-24zM57.4 186h8v8h-8zM161.4 186h32v8h-32zM153.4 178h32v8h-32zM65.4 170h8v8h-8zM145.4 170h32v8h-32zM73.4 162h8v8h-8zM137.4 162h32v8h-32zM81.4 154h16v8h-16zM113.4 154h48v8h-48zM89.4 146h56v8h-56zM713.4 2h16v8h-16zM713.4 -6h40v8h-40zM705.4 -14h64v8h-64zM697.4 -22h88v8h-88zM657.4 -30h144v8h-144zM617.4 -38h192v8h-192zM569.4 -46h240v8h-240zM521.4 -54h288v8h-288zM481.4 -62h64v8h-64zM617.4 -62h192v8h-192zM441.4 -70h48v8h-48zM649.4 -70h160v8h-160zM409.4 -78h32v8h-32zM673.4 -78h136v8h-136zM377.4 -86h40v8h-40zM689.4 -86h120v8h-120zM345.4 -94h40v8h-40zM697.4 -94h112v8h-112zM305.4 -102h48v8h-48zM705.4 -102h104v8h-104zM257.4 -110h72v8h-72zM721.4 -110h88v8h-88zM233.4 -118h80v8h-80zM721.4 -118h88v8h-88zM225.4 -126h72v8h-72zM729.4 -126h80v8h-80zM225.4 -134h72v8h-72zM737.4 -134h72v8h-72zM217.4 -142h72v8h-72zM737.4 -142h72v8h-72zM217.4 -150h72v8h-72zM745.4 -150h64v8h-64zM217.4 -158h64v8h-64zM745.4 -158h64v8h-64zM217.4 -166h64v8h-64zM745.4 -166h64v8h-64zM217.4 -174h64v8h-64zM745.4 -174h64v8h-64zM217.4 -182h72v8h-72zM745.4 -182h64v8h-64zM217.4 -190h72v8h-72zM737.4 -190h72v8h-72zM217.4 -198h72v8h-72zM737.4 -198h72v8h-72zM225.4 -206h72v8h-72zM729.4 -206h80v8h-80zM225.4 -214h72v8h-72zM729.4 -214h80v8h-80zM233.4 -222h72v8h-72zM721.4 -222h88v8h-88zM233.4 -230h80v8h-80zM713.4 -230h96v8h-96zM241.4 -238h80v8h-80zM697.4 -238h112v8h-112zM241.4 -246h96v8h-96zM689.4 -246h120v8h-120zM249.4 -254h96v8h-96zM673.4 -254h136v8h-136zM257.4 -262h104v8h-104zM657.4 -262h152v8h-152zM265.4 -270h120v8h-120zM633.4 -270h176v8h-176zM273.4 -278h136v8h-136zM609.4 -278h200v8h-200zM281.4 -286h168v8h-168zM569.4 -286h240v8h-240zM289.4 -294h520v8h-520zM305.4 -302h496v8h-496zM313.4 -310h472v8h-472zM329.4 -318h440v8h-440zM345.4 -326h408v8h-408zM369.4 -334h360v8h-360zM385.4 -342h320v8h-320z"/><path fill="#4100ff" d="M57.4 330h8v8h-8zM137.4 330h24v8h-24zM145.4 322h24v8h-24zM49.4 314h8v8h-8zM153.4 314h16v8h-16zM161.4 306h16v8h-16zM41.4 298h8v8h-8zM161.4 298h16v8h-16zM41.4 290h8v8h-8zM169.4 290h16v8h-16zM169.4 282h16v8h-16zM169.4 274h16v8h-16zM169.4 266h16v8h-16zM169.4 258h16v8h-16zM169.4 250h16v8h-16zM169.4 242h16v8h-16zM41.4 234h8v8h-8zM169.4 234h16v8h-16zM41.4 226h8v8h-8zM169.4 226h16v8h-16zM161.4 218h24v8h-24zM49.4 210h8v8h-8zM161.4 210h16v8h-16zM153.4 202h24v8h-24zM57.4 194h8v8h-8zM153.4 194h16v8h-16zM145.4 186h16v8h-16zM65.4 178h8v8h-8zM137.4 178h16v8h-16zM73.4 170h8v8h-8zM121.4 170h24v8h-24zM81.4 162h56v8h-56zM97.4 154h16v8h-16zM545.4 -62h72v8h-72zM489.4 -70h160v8h-160zM441.4 -78h232v8h-232zM417.4 -86h272v8h-272zM385.4 -94h312v8h-312zM353.4 -102h96v8h-96zM561.4 -102h144v8h-144zM329.4 -110h88v8h-88zM585.4 -110h136v8h-136zM313.4 -118h88v8h-88zM601.4 -118h120v8h-120zM297.4 -126h88v8h-88zM617.4 -126h112v8h-112zM297.4 -134h80v8h-80zM625.4 -134h112v8h-112zM289.4 -142h80v8h-80zM633.4 -142h104v8h-104zM289.4 -150h80v8h-80zM633.4 -150h112v8h-112zM281.4 -158h88v8h-88zM641.4 -158h104v8h-104zM281.4 -166h80v8h-80zM641.4 -166h104v8h-104zM281.4 -174h88v8h-88zM641.4 -174h104v8h-104zM289.4 -182h80v8h-80zM633.4 -182h112v8h-112zM289.4 -190h80v8h-80zM633.4 -190h104v8h-104zM289.4 -198h88v8h-88zM625.4 -198h112v8h-112zM297.4 -206h88v8h-88zM617.4 -206h112v8h-112zM297.4 -214h104v8h-104zM601.4 -214h128v8h-128zM305.4 -222h112v8h-112zM585.4 -222h136v8h-136zM313.4 -230h120v8h-120zM561.4 -230h152v8h-152zM321.4 -238h168v8h-168zM505.4 -238h192v8h-192zM337.4 -246h352v8h-352zM345.4 -254h328v8h-328zM361.4 -262h296v8h-296zM385.4 -270h248v8h-248zM409.4 -278h200v8h-200zM449.4 -286h120v8h-120z"/><path fill="#4600ff" d="M65.4 330h8v8h-8zM113.4 330h24v8h-24zM57.4 322h8v8h-8zM129.4 322h16v8h-16zM137.4 314h16v8h-16zM49.4 306h8v8h-8zM145.4 306h16v8h-16zM145.4 298h16v8h-16zM153.4 290h16v8h-16zM41.4 282h8v8h-8zM153.4 282h16v8h-16zM41.4 274h8v8h-8zM153.4 274h16v8h-16zM41.4 266h8v8h-8zM161.4 266h8v8h-8zM41.4 258h8v8h-8zM161.4 258h8v8h-8zM41.4 250h8v8h-8zM161.4 250h8v8h-8zM41.4 242h8v8h-8zM161.4 242h8v8h-8zM153.4 234h16v8h-16zM153.4 226h16v8h-16zM49.4 218h8v8h-8zM153.4 218h8v8h-8zM145.4 210h16v8h-16zM57.4 202h8v8h-8zM137.4 202h16v8h-16zM129.4 194h24v8h-24zM65.4 186h8v8h-8zM121.4 186h24v8h-24zM73.4 178h16v8h-16zM105.4 178h32v8h-32zM81.4 170h40v8h-40zM449.4 -102h112v8h-112zM417.4 -110h168v8h-168zM401.4 -118h200v8h-200zM385.4 -126h232v8h-232zM377.4 -134h248v8h-248zM369.4 -142h264v8h-264zM369.4 -150h264v8h-264zM369.4 -158h272v8h-272zM361.4 -166h280v8h-280zM369.4 -174h272v8h-272zM369.4 -182h264v8h-264zM369.4 -190h264v8h-264zM377.4 -198h248v8h-248zM385.4 -206h232v8h-232zM401.4 -214h200v8h-200zM417.4 -222h168v8h-168zM433.4 -230h128v8h-128zM489.4 -238h16v8h-16z"/><path fill="#4b00ff" d="M73.4 330h40v8h-40zM65.4 322h16v8h-16zM105.4 322h24v8h-24zM57.4 314h8v8h-8zM121.4 314h16v8h-16zM57.4 306h8v8h-8zM129.4 306h16v8h-16zM49.4 298h8v8h-8zM137.4 298h8v8h-8zM49.4 290h8v8h-8zM137.4 290h16v8h-16zM145.4 282h8v8h-8zM145.4 274h8v8h-8zM145.4 266h16v8h-16zM145.4 258h16v8h-16zM145.4 250h16v8h-16zM145.4 242h16v8h-16zM49.4 234h8v8h-8zM145.4 234h8v8h-8zM49.4 226h8v8h-8zM145.4 226h8v8h-8zM137.4 218h16v8h-16zM57.4 210h8v8h-8zM129.4 210h16v8h-16zM65.4 202h8v8h-8zM121.4 202h16v8h-16zM65.4 194h16v8h-16zM113.4 194h16v8h-16zM73.4 186h48v8h-48zM89.4 178h16v8h-16z"/><path fill="#3700ff" d="M185.4 330h624v8h-624zM41.4 322h8v8h-8zM193.4 322h616v8h-616zM201.4 314h608v8h-608zM201.4 306h608v8h-608zM33.4 298h8v8h-8zM201.4 298h608v8h-608zM33.4 290h8v8h-8zM209.4 290h600v8h-600zM209.4 282h600v8h-600zM209.4 274h600v8h-600zM209.4 266h600v8h-600zM209.4 258h600v8h-600zM209.4 250h600v8h-600zM33.4 242h8v8h-8zM209.4 242h600v8h-600zM33.4 234h8v8h-8zM209.4 234h600v8h-600zM209.4 226h600v8h-600zM209.4 218h600v8h-600zM41.4 210h8v8h-8zM201.4 210h608v8h-608zM201.4 202h608v8h-608zM193.4 194h616v8h-616zM49.4 186h8v8h-8zM193.4 186h616v8h-616zM57.4 178h8v8h-8zM185.4 178h624v8h-624zM57.4 170h8v8h-8zM177.4 170h632v8h-632zM65.4 162h8v8h-8zM169.4 162h640v8h-640zM73.4 154h8v8h-8zM161.4 154h648v8h-648zM73.4 146h16v8h-16zM145.4 146h664v8h-664zM81.4 138h728v8h-728zM89.4 130h720v8h-720zM97.4 122h72v8h-72zM241.4 122h568v8h-568zM265.4 114h544v8h-544zM313.4 106h496v8h-496zM409.4 98h400v8h-400zM553.4 90h256v8h-256zM593.4 82h216v8h-216zM617.4 74h192v8h-192zM649.4 66h160v8h-160zM657.4 58h152v8h-152zM673.4 50h136v8h-136zM681.4 42h128v8h-128zM689.4 34h120v8h-120zM689.4 26h120v8h-120zM689.4 18h120v8h-120zM689.4 10h120v8h-120zM681.4 2h32v8h-32zM729.4 2h80v8h-80zM673.4 -6h40v8h-40zM753.4 -6h56v8h-56zM657.4 -14h48v8h-48zM769.4 -14h40v8h-40zM633.4 -22h64v8h-64zM785.4 -22h24v8h-24zM609.4 -30h48v8h-48zM801.4 -30h8v8h-8zM569.4 -38h48v8h-48zM521.4 -46h48v8h-48zM489.4 -54h32v8h-32zM449.4 -62h32v8h-32zM417.4 -70h24v8h-24zM393.4 -78h16v8h-16zM353.4 -86h24v8h-24zM305.4 -94h40v8h-40zM209.4 -102h96v8h-96zM177.4 -110h80v8h-80zM169.4 -118h64v8h-64zM161.4 -126h64v8h-64zM161.4 -134h64v8h-64zM161.4 -142h56v8h-56zM153.4 -150h64v8h-64zM153.4 -158h64v8h-64zM153.4 -166h64v8h-64zM153.4 -174h64v8h-64zM153.4 -182h64v8h-64zM153.4 -190h64v8h-64zM161.4 -198h56v8h-56zM161.4 -206h64v8h-64zM161.4 -214h64v8h-64zM161.4 -222h72v8h-72zM161.4 -230h72v8h-72zM169.4 -238h72v8h-72zM169.4 -246h72v8h-72zM169.4 -254h80v8h-80zM177.4 -262h80v8h-80zM177.4 -270h88v8h-88zM185.4 -278h88v8h-88zM185.4 -286h96v8h-96zM193.4 -294h96v8h-96zM193.4 -302h112v8h-112zM801.4 -302h8v8h-8zM201.4 -310h112v8h-112zM785.4 -310h24v8h-24zM201.4 -318h128v8h-128zM769.4 -318h40v8h-40zM209.4 -326h136v8h-136zM753.4 -326h56v8h-56zM209.4 -334h160v8h-160zM729.4 -334h80v8h-80zM217.4 -342h168v8h-168zM705.4 -342h104v8h-104z"/><path fill="#000fff" d="M-6.6 322h8v8h-8zM49.4 74h8v8h-8zM209.4 66h8v8h-8zM265.4 66h8v8h-8zM585.4 18h8v8h-8zM361.4 -62h8v8h-8zM57.4 -70h8v8h-8zM265.4 -70h24v8h-24zM33.4 -102h8v8h-8z"/><path fill="#000afa" d="M1.4 322h8v8h-8zM-6.6 298h8v8h-8zM-6.6 290h8v8h-8zM-6.6 258h8v8h-8zM1.4 234h8v8h-8zM17.4 194h8v8h-8zM41.4 122h8v8h-8zM89.4 66h8v8h-8zM169.4 66h16v8h-16zM369.4 66h16v8h-16zM401.4 -54h8v8h-8zM73.4 -70h8v8h-8zM209.4 -70h16v8h-16zM41.4 -78h8v8h-8zM33.4 -158h8v8h-8zM33.4 -166h8v8h-8zM33.4 -174h8v8h-8zM33.4 -182h8v8h-8zM33.4 -190h8v8h-8z"/><path fill="#0000f0" d="M9.4 322h8v8h-8zM9.4 314h8v8h-8zM1.4 282h8v8h-8zM1.4 274h8v8h-8zM1.4 266h8v8h-8zM9.4 234h8v8h-8zM17.4 210h8v8h-8zM25.4 186h8v8h-8zM33.4 162h8v8h-8zM41.4 138h8v8h-8zM49.4 114h8v8h-8zM49.4 106h8v8h-8zM65.4 74h8v8h-8zM121.4 66h16v8h-16zM497.4 66h16v8h-16zM545.4 58h8v8h-8zM569.4 50h8v8h-8zM593.4 34h8v8h-8zM601.4 26h8v8h-8zM601.4 18h8v8h-8zM577.4 -6h8v8h-8zM561.4 -14h8v8h-8zM505.4 -30h8v8h-8zM473.4 -38h8v8h-8zM441.4 -46h8v8h-8zM409.4 -54h8v8h-8zM105.4 -70h16v8h-16zM153.4 -70h16v8h-16zM337.4 -70h8v8h-8zM57.4 -78h8v8h-8zM41.4 -142h8v8h-8zM41.4 -150h8v8h-8zM41.4 -158h8v8h-8zM41.4 -166h8v8h-8zM41.4 -174h8v8h-8zM41.4 -182h8v8h-8zM41.4 -190h8v8h-8zM41.4 -198h8v8h-8zM41.4 -206h8v8h-8zM41.4 -214h8v8h-8zM41.4 -222h8v8h-8zM41.4 -230h8v8h-8zM41.4 -238h8v8h-8zM41.4 -246h8v8h-8zM41.4 -254h8v8h-8zM41.4 -262h8v8h-8zM41.4 -270h8v8h-8zM41.4 -278h8v8h-8zM41.4 -286h8v8h-8zM41.4 -294h8v8h-8zM41.4 -302h8v8h-8zM41.4 -310h8v8h-8zM41.4 -318h8v8h-8zM41.4 -326h8v8h-8zM41.4 -334h8v8h-8zM41.4 -342h8v8h-8z"/><path fill="#0f00f5" d="M17.4 322h8v8h-8zM9.4 282h8v8h-8zM9.4 274h8v8h-8zM9.4 266h8v8h-8zM17.4 226h8v8h-8zM33.4 178h8v8h-8zM41.4 154h8v8h-8zM49.4 130h8v8h-8zM57.4 98h8v8h-8zM97.4 74h8v8h-8zM177.4 74h112v8h-112zM529.4 66h8v8h-8zM561.4 58h8v8h-8zM593.4 42h8v8h-8zM609.4 26h8v8h-8zM609.4 10h8v8h-8zM601.4 2h8v8h-8zM545.4 -22h8v8h-8zM513.4 -30h8v8h-8zM353.4 -70h8v8h-8zM89.4 -78h8v8h-8zM57.4 -86h8v8h-8zM49.4 -158h8v8h-8zM49.4 -166h8v8h-8zM49.4 -174h8v8h-8zM49.4 -182h8v8h-8zM49.4 -190h8v8h-8zM49.4 -198h8v8h-8zM49.4 -206h8v8h-8zM49.4 -214h8v8h-8zM49.4 -222h8v8h-8zM49.4 -230h8v8h-8zM49.4 -238h8v8h-8zM49.4 -246h8v8h-8zM49.4 -254h8v8h-8zM49.4 -262h8v8h-8zM49.4 -270h8v8h-8zM49.4 -278h8v8h-8zM49.4 -286h8v8h-8zM49.4 -294h8v8h-8zM49.4 -302h8v8h-8zM49.4 -310h8v8h-8zM49.4 -318h8v8h-8zM49.4 -326h8v8h-8zM49.4 -334h8v8h-8zM49.4 -342h8v8h-8z"/><path fill="#1e00fa" d="M25.4 322h8v8h-8zM17.4 290h8v8h-8zM17.4 282h8v8h-8zM17.4 258h8v8h-8zM17.4 250h8v8h-8zM25.4 218h8v8h-8zM33.4 194h8v8h-8zM41.4 170h8v8h-8zM57.4 130h8v8h-8zM65.4 106h8v8h-8zM65.4 98h8v8h-8zM89.4 82h16v8h-16zM489.4 74h32v8h-32zM553.4 66h8v8h-8zM577.4 58h8v8h-8zM593.4 50h8v8h-8zM609.4 42h8v8h-8zM617.4 34h8v8h-8zM625.4 26h8v8h-8zM625.4 18h8v8h-8zM617.4 10h8v8h-8zM601.4 -6h8v8h-8zM585.4 -14h8v8h-8zM561.4 -22h8v8h-8zM529.4 -30h8v8h-8zM497.4 -38h8v8h-8zM465.4 -46h8v8h-8zM433.4 -54h8v8h-8zM401.4 -62h8v8h-8zM369.4 -70h8v8h-8zM121.4 -78h48v8h-48zM321.4 -78h8v8h-8zM81.4 -86h16v8h-16zM65.4 -94h8v8h-8zM65.4 -102h8v8h-8zM65.4 -110h8v8h-8zM65.4 -118h8v8h-8z"/><path fill="#2d00ff" d="M33.4 322h8v8h-8zM33.4 314h8v8h-8zM25.4 290h8v8h-8zM25.4 282h8v8h-8zM25.4 274h8v8h-8zM25.4 266h8v8h-8zM25.4 258h8v8h-8zM25.4 250h8v8h-8zM25.4 242h8v8h-8zM33.4 218h8v8h-8zM33.4 210h8v8h-8zM41.4 194h8v8h-8zM49.4 170h8v8h-8zM57.4 154h8v8h-8zM65.4 138h8v8h-8zM73.4 130h8v8h-8zM73.4 122h8v8h-8zM81.4 114h8v8h-8zM81.4 106h16v8h-16zM89.4 98h32v8h-32zM121.4 90h224v8h-224zM497.4 82h48v8h-48zM553.4 74h24v8h-24zM585.4 66h24v8h-24zM609.4 58h16v8h-16zM625.4 50h24v8h-24zM641.4 42h16v8h-16zM649.4 34h16v8h-16zM649.4 26h16v8h-16zM657.4 18h8v8h-8zM649.4 10h16v8h-16zM641.4 2h16v8h-16zM633.4 -6h16v8h-16zM617.4 -14h16v8h-16zM593.4 -22h16v8h-16zM569.4 -30h16v8h-16zM529.4 -38h16v8h-16zM497.4 -46h8v8h-8zM457.4 -54h16v8h-16zM425.4 -62h8v8h-8zM393.4 -70h16v8h-16zM361.4 -78h8v8h-8zM313.4 -86h16v8h-16zM121.4 -94h72v8h-72zM97.4 -102h32v8h-32zM89.4 -110h32v8h-32zM89.4 -118h24v8h-24zM89.4 -126h24v8h-24zM89.4 -134h24v8h-24zM89.4 -142h24v8h-24zM89.4 -150h24v8h-24zM89.4 -158h16v8h-16zM89.4 -166h16v8h-16zM89.4 -174h16v8h-16zM89.4 -182h16v8h-16zM89.4 -190h24v8h-24zM89.4 -198h24v8h-24zM89.4 -206h24v8h-24zM89.4 -214h24v8h-24zM89.4 -222h24v8h-24zM89.4 -230h24v8h-24zM89.4 -238h24v8h-24zM89.4 -246h24v8h-24zM89.4 -254h24v8h-24zM89.4 -262h24v8h-24zM89.4 -270h32v8h-32zM89.4 -278h32v8h-32zM89.4 -286h32v8h-32zM89.4 -294h32v8h-32zM89.4 -302h32v8h-32zM89.4 -310h32v8h-32zM89.4 -318h32v8h-32zM89.4 -326h40v8h-40zM89.4 -334h40v8h-40zM97.4 -342h32v8h-32z"/><path fill="#5000ff" d="M81.4 322h24v8h-24zM65.4 314h16v8h-16zM97.4 314h24v8h-24zM65.4 306h8v8h-8zM113.4 306h16v8h-16zM57.4 298h8v8h-8zM121.4 298h16v8h-16zM129.4 290h8v8h-8zM49.4 282h8v8h-8zM129.4 282h16v8h-16zM49.4 274h8v8h-8zM137.4 274h8v8h-8zM49.4 266h8v8h-8zM137.4 266h8v8h-8zM49.4 258h8v8h-8zM137.4 258h8v8h-8zM49.4 250h8v8h-8zM137.4 250h8v8h-8zM49.4 242h8v8h-8zM137.4 242h8v8h-8zM129.4 234h16v8h-16zM57.4 226h8v8h-8zM129.4 226h16v8h-16zM57.4 218h8v8h-8zM121.4 218h16v8h-16zM65.4 210h8v8h-8zM121.4 210h8v8h-8zM73.4 202h8v8h-8zM105.4 202h16v8h-16zM81.4 194h32v8h-32z"/><path fill="#000af5" d="M1.4 314h8v8h-8zM-6.6 282h8v8h-8zM-6.6 274h8v8h-8zM-6.6 266h8v8h-8zM1.4 242h8v8h-8zM9.4 218h8v8h-8zM49.4 90h8v8h-8zM97.4 66h8v8h-8zM161.4 66h8v8h-8zM385.4 66h88v8h-88zM585.4 34h8v8h-8zM593.4 18h8v8h-8zM569.4 -6h8v8h-8zM521.4 -22h8v8h-8zM497.4 -30h8v8h-8zM465.4 -38h8v8h-8zM433.4 -46h8v8h-8zM369.4 -62h8v8h-8zM81.4 -70h8v8h-8zM193.4 -70h16v8h-16zM321.4 -70h8v8h-8zM33.4 -198h8v8h-8zM33.4 -206h8v8h-8zM33.4 -214h8v8h-8zM33.4 -222h8v8h-8zM33.4 -230h8v8h-8zM33.4 -238h8v8h-8zM33.4 -246h8v8h-8zM33.4 -254h8v8h-8zM33.4 -262h8v8h-8zM33.4 -270h8v8h-8zM33.4 -278h8v8h-8zM33.4 -286h8v8h-8zM33.4 -294h8v8h-8zM33.4 -302h8v8h-8zM33.4 -310h8v8h-8zM33.4 -318h8v8h-8zM33.4 -326h8v8h-8zM33.4 -334h8v8h-8zM33.4 -342h8v8h-8z"/><path fill="#1400f5" d="M17.4 314h8v8h-8zM25.4 202h8v8h-8zM57.4 106h8v8h-8zM105.4 74h8v8h-8zM169.4 74h8v8h-8zM289.4 74h8v8h-8zM393.4 -62h8v8h-8z"/><path fill="#2300ff" d="M25.4 314h8v8h-8zM25.4 226h8v8h-8zM41.4 178h8v8h-8zM49.4 154h8v8h-8zM57.4 138h8v8h-8zM65.4 122h8v8h-8zM65.4 114h8v8h-8zM73.4 98h8v8h-8zM73.4 90h16v8h-16zM105.4 82h184v8h-184zM521.4 74h16v8h-16zM561.4 66h8v8h-8zM585.4 58h8v8h-8zM601.4 50h16v8h-16zM617.4 42h8v8h-8zM625.4 34h8v8h-8zM633.4 26h8v8h-8zM633.4 18h8v8h-8zM625.4 10h16v8h-16zM617.4 2h16v8h-16zM609.4 -6h8v8h-8zM593.4 -14h8v8h-8zM569.4 -22h16v8h-16zM537.4 -30h16v8h-16zM505.4 -38h8v8h-8zM473.4 -46h8v8h-8zM441.4 -54h8v8h-8zM409.4 -62h8v8h-8zM377.4 -70h8v8h-8zM329.4 -78h16v8h-16zM97.4 -86h24v8h-24zM73.4 -94h24v8h-24zM73.4 -102h8v8h-8zM73.4 -110h8v8h-8zM73.4 -118h8v8h-8zM73.4 -126h8v8h-8zM65.4 -150h8v8h-8zM65.4 -158h8v8h-8zM65.4 -166h8v8h-8zM65.4 -174h8v8h-8zM65.4 -182h8v8h-8zM65.4 -190h8v8h-8zM65.4 -198h8v8h-8zM65.4 -206h8v8h-8zM65.4 -214h8v8h-8zM65.4 -222h8v8h-8zM65.4 -230h8v8h-8zM65.4 -238h8v8h-8zM65.4 -246h8v8h-8zM65.4 -254h8v8h-8zM65.4 -262h8v8h-8zM65.4 -270h8v8h-8zM65.4 -278h8v8h-8zM65.4 -286h8v8h-8zM65.4 -294h16v8h-16zM65.4 -302h16v8h-16zM65.4 -310h16v8h-16zM65.4 -318h16v8h-16zM65.4 -326h16v8h-16zM65.4 -334h16v8h-16zM65.4 -342h16v8h-16z"/><path fill="#5500ff" d="M81.4 314h16v8h-16zM73.4 306h40v8h-40zM65.4 298h8v8h-8zM105.4 298h16v8h-16zM57.4 290h8v8h-8zM113.4 290h16v8h-16zM57.4 282h8v8h-8zM121.4 282h8v8h-8zM57.4 274h8v8h-8zM121.4 274h16v8h-16zM121.4 266h16v8h-16zM121.4 258h16v8h-16zM121.4 250h16v8h-16zM57.4 242h8v8h-8zM121.4 242h16v8h-16zM57.4 234h8v8h-8zM121.4 234h8v8h-8zM113.4 226h16v8h-16zM65.4 218h8v8h-8zM105.4 218h16v8h-16zM73.4 210h48v8h-48zM81.4 202h24v8h-24z"/><path fill="#0500f0" d="M9.4 306h8v8h-8zM9.4 242h8v8h-8zM41.4 146h8v8h-8zM57.4 82h8v8h-8zM73.4 74h8v8h-8zM513.4 66h8v8h-8zM585.4 42h8v8h-8zM601.4 10h8v8h-8zM593.4 2h8v8h-8zM537.4 -22h8v8h-8zM385.4 -62h8v8h-8zM121.4 -70h8v8h-8zM137.4 -70h16v8h-16zM65.4 -78h8v8h-8zM49.4 -86h8v8h-8z"/><path fill="#5a00ff" d="M73.4 298h32v8h-32zM65.4 290h48v8h-48zM65.4 282h16v8h-16zM97.4 282h24v8h-24zM65.4 274h8v8h-8zM105.4 274h16v8h-16zM57.4 266h16v8h-16zM105.4 266h16v8h-16zM57.4 258h8v8h-8zM113.4 258h8v8h-8zM57.4 250h16v8h-16zM105.4 250h16v8h-16zM65.4 242h8v8h-8zM105.4 242h16v8h-16zM65.4 234h8v8h-8zM105.4 234h16v8h-16zM65.4 226h48v8h-48zM73.4 218h32v8h-32z"/><path fill="#5f00ff" d="M81.4 282h16v8h-16zM73.4 274h32v8h-32zM73.4 266h32v8h-32zM65.4 258h48v8h-48zM73.4 250h32v8h-32zM73.4 242h32v8h-32zM73.4 234h32v8h-32z"/><path fill="#2300fa" d="M17.4 274h8v8h-8zM17.4 266h8v8h-8zM65.4 -126h8v8h-8zM65.4 -134h8v8h-8zM65.4 -142h8v8h-8z"/><path fill="#0019ff" d="M-6.6 226h8v8h-8zM17.4 178h8v8h-8zM545.4 50h8v8h-8zM537.4 -14h8v8h-8zM113.4 -62h8v8h-8zM137.4 -62h8v8h-8zM49.4 -70h8v8h-8zM33.4 -78h8v8h-8zM25.4 -166h8v8h-8zM25.4 -174h8v8h-8zM25.4 -182h8v8h-8z"/><path fill="#0023ff" d="M-6.6 218h8v8h-8zM41.4 90h8v8h-8zM561.4 42h8v8h-8zM577.4 10h8v8h-8zM569.4 2h8v8h-8zM481.4 -30h8v8h-8zM89.4 -62h8v8h-8zM25.4 -126h8v8h-8zM25.4 -134h8v8h-8zM17.4 -342h8v8h-8z"/><path fill="#002dff" d="M-6.6 210h8v8h-8zM1.4 202h8v8h-8zM9.4 186h8v8h-8zM25.4 146h8v8h-8zM41.4 82h8v8h-8zM49.4 66h8v8h-8zM105.4 58h16v8h-16zM137.4 58h8v8h-8zM569.4 34h8v8h-8zM577.4 18h8v8h-8zM529.4 -14h8v8h-8zM505.4 -22h8v8h-8zM417.4 -46h8v8h-8zM81.4 -62h8v8h-8zM161.4 -62h8v8h-8zM25.4 -94h8v8h-8zM25.4 -102h8v8h-8zM17.4 -190h8v8h-8zM17.4 -198h8v8h-8zM17.4 -206h8v8h-8zM17.4 -214h8v8h-8zM17.4 -222h8v8h-8zM17.4 -230h8v8h-8zM17.4 -238h8v8h-8z"/><path fill="#001eff" d="M1.4 210h8v8h-8zM9.4 194h8v8h-8zM25.4 154h8v8h-8zM33.4 130h8v8h-8zM57.4 66h8v8h-8zM513.4 58h8v8h-8zM393.4 -54h8v8h-8zM97.4 -62h16v8h-16zM145.4 -62h8v8h-8zM353.4 -62h8v8h-8zM25.4 -142h8v8h-8zM25.4 -150h8v8h-8zM25.4 -158h8v8h-8z"/><path fill="#003cff" d="M-6.6 202h8v8h-8zM1.4 194h8v8h-8zM9.4 178h8v8h-8zM25.4 138h8v8h-8zM33.4 106h8v8h-8zM41.4 74h8v8h-8zM81.4 58h8v8h-8zM153.4 58h8v8h-8zM489.4 58h8v8h-8zM385.4 -54h8v8h-8zM25.4 -78h8v8h-8zM17.4 -134h8v8h-8zM17.4 -142h8v8h-8zM9.4 -246h8v8h-8zM9.4 -254h8v8h-8zM9.4 -262h8v8h-8zM9.4 -270h8v8h-8zM9.4 -278h8v8h-8zM9.4 -286h8v8h-8zM9.4 -294h8v8h-8zM9.4 -302h8v8h-8zM9.4 -310h8v8h-8zM9.4 -318h8v8h-8z"/><path fill="#004bff" d="M-6.6 194h8v8h-8zM9.4 170h8v8h-8zM41.4 66h8v8h-8zM65.4 58h8v8h-8zM473.4 58h8v8h-8zM561.4 34h8v8h-8zM497.4 -22h8v8h-8zM409.4 -46h8v8h-8zM25.4 -70h8v8h-8zM17.4 -94h8v8h-8zM9.4 -158h8v8h-8zM9.4 -166h8v8h-8zM1.4 -230h8v8h-8zM1.4 -238h8v8h-8zM1.4 -246h8v8h-8zM1.4 -254h8v8h-8zM1.4 -262h8v8h-8zM1.4 -270h8v8h-8zM1.4 -278h8v8h-8zM1.4 -286h8v8h-8zM-6.6 -294h16v8h-16zM-6.6 -302h8v8h-8zM-6.6 -310h8v8h-8zM-6.6 -318h8v8h-8zM-6.6 -326h8v8h-8zM-6.6 -334h8v8h-8zM-6.6 -342h8v8h-8z"/><path fill="#0055ff" d="M-6.6 186h8v8h-8zM1.4 178h8v8h-8zM17.4 146h8v8h-8zM25.4 122h8v8h-8zM57.4 58h8v8h-8zM177.4 58h8v8h-8zM409.4 58h48v8h-48zM545.4 42h8v8h-8zM201.4 -62h8v8h-8zM329.4 -62h8v8h-8zM9.4 -126h8v8h-8zM9.4 -134h8v8h-8zM1.4 -174h8v8h-8zM1.4 -182h8v8h-8zM-6.6 -190h8v8h-8zM-6.6 -198h8v8h-8zM-6.6 -206h8v8h-8zM-6.6 -214h8v8h-8zM-6.6 -222h8v8h-8z"/><path fill="#0046ff" d="M1.4 186h8v8h-8zM17.4 154h8v8h-8zM25.4 130h8v8h-8zM33.4 98h8v8h-8zM73.4 58h8v8h-8zM161.4 58h8v8h-8zM529.4 50h8v8h-8zM569.4 26h8v8h-8zM545.4 -6h8v8h-8zM521.4 -14h8v8h-8zM441.4 -38h8v8h-8zM185.4 -62h8v8h-8zM17.4 -102h8v8h-8zM17.4 -110h8v8h-8zM9.4 -174h8v8h-8zM9.4 -182h8v8h-8zM9.4 -190h8v8h-8zM1.4 -302h8v8h-8zM1.4 -310h8v8h-8zM1.4 -318h8v8h-8zM1.4 -326h8v8h-8zM1.4 -334h8v8h-8zM1.4 -342h8v8h-8z"/><path fill="#0064ff" d="M-6.6 178h8v8h-8zM1.4 170h8v8h-8zM17.4 138h8v8h-8zM49.4 58h8v8h-8zM193.4 58h8v8h-8zM433.4 -38h8v8h-8zM113.4 -54h24v8h-24zM217.4 -62h8v8h-8zM9.4 -86h8v8h-8zM1.4 -126h8v8h-8zM1.4 -134h8v8h-8zM-6.6 -142h8v8h-8zM-6.6 -150h8v8h-8z"/><path fill="#0073ff" d="M-6.6 170h8v8h-8zM1.4 162h8v8h-8zM17.4 130h8v8h-8zM25.4 98h8v8h-8zM33.4 74h8v8h-8zM217.4 58h16v8h-16zM265.4 58h24v8h-24zM345.4 58h8v8h-8zM537.4 42h8v8h-8zM401.4 -46h8v8h-8zM73.4 -54h8v8h-8zM241.4 -62h8v8h-8zM9.4 -78h8v8h-8zM1.4 -86h8v8h-8zM1.4 -94h8v8h-8zM-6.6 -102h8v8h-8z"/><path fill="#0028ff" d="M17.4 170h8v8h-8zM33.4 122h8v8h-8zM121.4 58h16v8h-16zM505.4 58h8v8h-8zM577.4 26h8v8h-8zM553.4 -6h8v8h-8zM449.4 -38h8v8h-8zM153.4 -62h8v8h-8zM41.4 -70h8v8h-8zM25.4 -110h8v8h-8zM25.4 -118h8v8h-8zM17.4 -246h8v8h-8zM17.4 -254h8v8h-8zM17.4 -262h8v8h-8zM17.4 -270h8v8h-8zM17.4 -278h8v8h-8zM17.4 -286h8v8h-8zM17.4 -294h8v8h-8zM17.4 -302h8v8h-8zM17.4 -310h8v8h-8zM17.4 -318h8v8h-8zM17.4 -326h8v8h-8zM17.4 -334h8v8h-8z"/><path fill="#0500f5" d="M33.4 170h8v8h-8zM81.4 74h8v8h-8zM129.4 -70h8v8h-8zM49.4 -94h8v8h-8z"/><path fill="#007dff" d="M-6.6 162h8v8h-8zM17.4 122h8v8h-8zM113.4 50h16v8h-16zM545.4 2h8v8h-8zM529.4 -6h8v8h-8zM457.4 -30h8v8h-8zM145.4 -54h8v8h-8zM25.4 -62h8v8h-8zM265.4 -62h16v8h-16zM-6.6 -86h8v8h-8z"/><path fill="#005aff" d="M9.4 162h8v8h-8zM385.4 58h24v8h-24zM457.4 58h8v8h-8zM553.4 2h8v8h-8zM17.4 -78h8v8h-8zM9.4 -110h8v8h-8zM9.4 -118h8v8h-8zM1.4 -158h8v8h-8zM1.4 -166h8v8h-8zM-6.6 -174h8v8h-8zM-6.6 -182h8v8h-8z"/><path fill="#0037ff" d="M17.4 162h8v8h-8zM89.4 58h8v8h-8zM145.4 58h8v8h-8zM553.4 42h8v8h-8zM65.4 -62h8v8h-8zM169.4 -62h8v8h-8zM33.4 -70h8v8h-8zM17.4 -150h8v8h-8zM17.4 -158h8v8h-8zM17.4 -166h8v8h-8zM9.4 -326h8v8h-8zM9.4 -334h8v8h-8zM9.4 -342h8v8h-8z"/><path fill="#1400fa" d="M41.4 162h8v8h-8zM49.4 138h8v8h-8zM57.4 114h8v8h-8zM65.4 82h8v8h-8zM113.4 74h8v8h-8zM153.4 74h16v8h-16zM297.4 74h72v8h-72zM537.4 66h8v8h-8zM585.4 50h8v8h-8zM601.4 42h8v8h-8zM609.4 34h8v8h-8zM593.4 -6h8v8h-8zM577.4 -14h8v8h-8zM553.4 -22h8v8h-8zM489.4 -38h8v8h-8zM457.4 -46h8v8h-8zM425.4 -54h8v8h-8zM97.4 -78h16v8h-16zM209.4 -78h104v8h-104zM65.4 -86h8v8h-8zM57.4 -94h8v8h-8zM57.4 -102h8v8h-8z"/><path fill="#0087ff" d="M-6.6 154h8v8h-8zM1.4 146h8v8h-8zM17.4 114h8v8h-8zM73.4 50h16v8h-16zM137.4 50h8v8h-8zM545.4 34h8v8h-8zM553.4 26h8v8h-8zM505.4 -14h8v8h-8zM481.4 -22h8v8h-8zM153.4 -54h8v8h-8zM17.4 -62h8v8h-8zM305.4 -62h8v8h-8zM-6.6 -78h8v8h-8z"/><path fill="#0082ff" d="M1.4 154h8v8h-8zM9.4 138h8v8h-8zM25.4 90h8v8h-8zM33.4 66h8v8h-8zM89.4 50h24v8h-24zM129.4 50h8v8h-8zM505.4 50h8v8h-8zM553.4 10h8v8h-8zM425.4 -38h8v8h-8zM57.4 -54h8v8h-8zM361.4 -54h8v8h-8zM281.4 -62h24v8h-24zM9.4 -70h8v8h-8zM1.4 -78h8v8h-8z"/><path fill="#0069ff" d="M9.4 154h8v8h-8zM25.4 106h8v8h-8zM201.4 58h8v8h-8zM361.4 58h16v8h-16zM553.4 34h8v8h-8zM561.4 26h8v8h-8zM513.4 -14h8v8h-8zM89.4 -54h24v8h-24zM225.4 -62h8v8h-8zM321.4 -62h8v8h-8zM17.4 -70h8v8h-8zM1.4 -110h8v8h-8zM1.4 -118h8v8h-8zM-6.6 -126h8v8h-8zM-6.6 -134h8v8h-8z"/><path fill="#0091ff" d="M-6.6 146h8v8h-8zM1.4 138h8v8h-8zM9.4 122h8v8h-8zM17.4 98h8v8h-8zM57.4 50h8v8h-8zM489.4 50h8v8h-8zM521.4 -6h8v8h-8zM449.4 -30h8v8h-8zM393.4 -46h8v8h-8zM41.4 -54h8v8h-8zM353.4 -54h8v8h-8zM9.4 -62h8v8h-8zM-6.6 -70h8v8h-8z"/><path fill="#0078ff" d="M9.4 146h8v8h-8zM41.4 58h8v8h-8zM233.4 58h32v8h-32zM65.4 -54h8v8h-8zM249.4 -62h16v8h-16zM313.4 -62h8v8h-8zM-6.6 -94h8v8h-8z"/><path fill="#0096ff" d="M-6.6 138h8v8h-8zM25.4 74h8v8h-8zM153.4 50h8v8h-8zM537.4 2h8v8h-8zM169.4 -54h8v8h-8z"/><path fill="#00a0ff" d="M-6.6 130h8v8h-8zM1.4 122h8v8h-8zM9.4 106h8v8h-8zM161.4 50h8v8h-8zM545.4 26h8v8h-8zM497.4 -14h8v8h-8zM473.4 -22h8v8h-8zM177.4 -54h8v8h-8zM-6.6 -62h8v8h-8z"/><path fill="#009bff" d="M1.4 130h8v8h-8zM9.4 114h8v8h-8zM17.4 90h8v8h-8zM49.4 50h8v8h-8zM481.4 50h8v8h-8zM521.4 42h8v8h-8zM537.4 34h8v8h-8zM545.4 10h8v8h-8zM417.4 -38h8v8h-8zM33.4 -54h8v8h-8zM1.4 -62h8v8h-8z"/><path fill="#008cff" d="M9.4 130h8v8h-8zM17.4 106h8v8h-8zM25.4 82h8v8h-8zM33.4 58h8v8h-8zM65.4 50h8v8h-8zM145.4 50h8v8h-8zM497.4 50h8v8h-8zM529.4 42h8v8h-8zM553.4 18h8v8h-8zM49.4 -54h8v8h-8zM161.4 -54h8v8h-8zM1.4 -70h8v8h-8z"/><path fill="#00a5ff" d="M-6.6 122h8v8h-8zM25.4 66h8v8h-8zM41.4 50h8v8h-8zM169.4 50h8v8h-8zM473.4 50h8v8h-8zM545.4 18h8v8h-8zM89.4 -46h16v8h-16zM25.4 -54h8v8h-8zM185.4 -54h8v8h-8zM345.4 -54h8v8h-8z"/><path fill="#00afff" d="M-6.6 114h8v8h-8zM1.4 106h8v8h-8zM9.4 90h8v8h-8zM25.4 58h8v8h-8zM33.4 50h8v8h-8zM177.4 50h8v8h-8zM513.4 42h8v8h-8zM537.4 10h8v8h-8zM57.4 -46h8v8h-8zM129.4 -46h8v8h-8zM193.4 -54h8v8h-8z"/><path fill="#00aaff" d="M1.4 114h8v8h-8zM9.4 98h8v8h-8zM17.4 82h8v8h-8zM465.4 50h8v8h-8zM529.4 2h8v8h-8zM513.4 -6h8v8h-8zM441.4 -30h8v8h-8zM65.4 -46h24v8h-24zM105.4 -46h24v8h-24zM385.4 -46h8v8h-8zM17.4 -54h8v8h-8z"/><path fill="#005fff" d="M25.4 114h8v8h-8zM33.4 82h8v8h-8zM185.4 58h8v8h-8zM377.4 58h8v8h-8zM521.4 50h8v8h-8zM561.4 10h8v8h-8zM537.4 -6h8v8h-8zM465.4 -30h8v8h-8zM41.4 -62h8v8h-8zM209.4 -62h8v8h-8zM9.4 -94h8v8h-8zM9.4 -102h8v8h-8zM1.4 -142h8v8h-8zM1.4 -150h8v8h-8zM-6.6 -158h8v8h-8zM-6.6 -166h8v8h-8z"/><path fill="#0032ff" d="M33.4 114h8v8h-8zM97.4 58h8v8h-8zM497.4 58h8v8h-8zM537.4 50h8v8h-8zM73.4 -62h8v8h-8zM345.4 -62h8v8h-8zM25.4 -86h8v8h-8zM17.4 -174h8v8h-8zM17.4 -182h8v8h-8z"/><path fill="#00b4ff" d="M-6.6 106h8v8h-8zM1.4 98h8v8h-8zM17.4 74h8v8h-8zM417.4 50h48v8h-48zM529.4 34h8v8h-8zM537.4 26h8v8h-8zM409.4 -38h8v8h-8zM9.4 -54h8v8h-8zM201.4 -54h8v8h-8zM337.4 -54h8v8h-8z"/><path fill="#00b9ff" d="M-6.6 98h8v8h-8zM25.4 50h8v8h-8zM185.4 50h8v8h-8zM401.4 50h16v8h-16zM65.4 42h48v8h-48zM489.4 -14h8v8h-8zM465.4 -22h8v8h-8zM49.4 -46h8v8h-8zM137.4 -46h8v8h-8zM1.4 -54h8v8h-8z"/><path fill="#00c3ff" d="M-6.6 90h8v8h-8zM17.4 66h8v8h-8zM201.4 50h8v8h-8zM377.4 50h8v8h-8zM129.4 42h8v8h-8zM505.4 -6h8v8h-8zM433.4 -30h8v8h-8zM145.4 -46h8v8h-8zM217.4 -54h8v8h-8zM329.4 -54h8v8h-8z"/><path fill="#00beff" d="M1.4 90h8v8h-8zM9.4 82h8v8h-8zM193.4 50h8v8h-8zM385.4 50h16v8h-16zM57.4 42h8v8h-8zM113.4 42h16v8h-16zM505.4 42h8v8h-8zM537.4 18h8v8h-8zM521.4 2h8v8h-8zM41.4 -46h8v8h-8zM377.4 -46h8v8h-8zM-6.6 -54h8v8h-8zM209.4 -54h8v8h-8z"/><path fill="#0050ff" d="M33.4 90h8v8h-8zM169.4 58h8v8h-8zM465.4 58h8v8h-8zM569.4 18h8v8h-8zM377.4 -54h8v8h-8zM49.4 -62h8v8h-8zM193.4 -62h8v8h-8zM17.4 -86h8v8h-8zM9.4 -142h8v8h-8zM9.4 -150h8v8h-8zM1.4 -190h8v8h-8zM1.4 -198h8v8h-8zM1.4 -206h8v8h-8zM1.4 -214h8v8h-8zM1.4 -222h8v8h-8zM-6.6 -230h8v8h-8zM-6.6 -238h8v8h-8zM-6.6 -246h8v8h-8zM-6.6 -254h8v8h-8zM-6.6 -262h8v8h-8zM-6.6 -270h8v8h-8zM-6.6 -278h8v8h-8zM-6.6 -286h8v8h-8z"/><path fill="#00d2ff" d="M-6.6 82h8v8h-8zM17.4 58h8v8h-8zM233.4 50h64v8h-64zM321.4 50h40v8h-40zM41.4 42h8v8h-8zM481.4 -14h8v8h-8zM457.4 -22h8v8h-8zM153.4 -46h8v8h-8zM241.4 -54h8v8h-8zM321.4 -54h8v8h-8z"/><path fill="#00cdff" d="M1.4 82h8v8h-8zM9.4 74h8v8h-8zM217.4 50h16v8h-16zM297.4 50h24v8h-24zM361.4 50h16v8h-16zM137.4 42h8v8h-8zM529.4 26h8v8h-8zM25.4 -46h8v8h-8zM233.4 -54h8v8h-8z"/><path fill="#00e1ff" d="M-6.6 74h8v8h-8zM25.4 42h8v8h-8zM521.4 10h8v8h-8zM497.4 -6h8v8h-8zM425.4 -30h8v8h-8zM57.4 -38h8v8h-8zM81.4 -38h16v8h-16zM1.4 -46h8v8h-8zM273.4 -54h16v8h-16zM313.4 -54h8v8h-8z"/><path fill="#00dcff" d="M1.4 74h8v8h-8zM9.4 66h8v8h-8zM17.4 50h8v8h-8zM33.4 42h8v8h-8zM513.4 34h8v8h-8zM513.4 2h8v8h-8zM65.4 -38h16v8h-16zM9.4 -46h8v8h-8zM161.4 -46h8v8h-8zM257.4 -54h16v8h-16z"/><path fill="#00f0ff" d="M-6.6 66h8v8h-8zM17.4 42h8v8h-8zM161.4 42h8v8h-8zM57.4 34h40v8h-40zM521.4 18h8v8h-8zM473.4 -14h8v8h-8zM113.4 -38h8v8h-8z"/><path fill="#00ebff" d="M1.4 66h8v8h-8zM9.4 58h8v8h-8zM449.4 -22h8v8h-8zM41.4 -38h8v8h-8zM105.4 -38h8v8h-8zM169.4 -46h8v8h-8zM361.4 -46h8v8h-8zM305.4 -54h8v8h-8z"/><path fill="#0005f0" d="M137.4 66h8v8h-8zM529.4 -22h8v8h-8zM377.4 -62h8v8h-8zM97.4 -70h8v8h-8zM169.4 -70h8v8h-8zM41.4 -134h8v8h-8z"/><path fill="#00ffff" d="M-6.6 58h8v8h-8zM169.4 42h8v8h-8zM465.4 42h8v8h-8zM41.4 34h8v8h-8zM513.4 26h8v8h-8zM513.4 10h8v8h-8zM489.4 -6h8v8h-8zM417.4 -30h8v8h-8zM17.4 -38h8v8h-8zM129.4 -38h8v8h-8zM353.4 -46h8v8h-8z"/><path fill="#00faff" d="M1.4 58h8v8h-8zM9.4 50h8v8h-8zM49.4 34h8v8h-8zM105.4 34h8v8h-8zM505.4 2h8v8h-8zM25.4 -38h8v8h-8z"/><path fill="#006eff" d="M209.4 58h8v8h-8zM289.4 58h56v8h-56zM353.4 58h8v8h-8zM513.4 50h8v8h-8zM561.4 18h8v8h-8zM489.4 -22h8v8h-8zM81.4 -54h8v8h-8zM137.4 -54h8v8h-8zM369.4 -54h8v8h-8zM33.4 -62h8v8h-8zM233.4 -62h8v8h-8zM1.4 -102h8v8h-8zM-6.6 -110h8v8h-8zM-6.6 -118h8v8h-8z"/><path fill="#0041ff" d="M481.4 58h8v8h-8zM569.4 10h8v8h-8zM561.4 2h8v8h-8zM473.4 -30h8v8h-8zM57.4 -62h8v8h-8zM177.4 -62h8v8h-8zM337.4 -62h8v8h-8zM17.4 -118h8v8h-8zM17.4 -126h8v8h-8zM9.4 -198h8v8h-8zM9.4 -206h8v8h-8zM9.4 -214h8v8h-8zM9.4 -222h8v8h-8zM9.4 -230h8v8h-8zM9.4 -238h8v8h-8z"/><path fill="#00ffeb" d="M-6.6 50h8v8h-8zM433.4 42h16v8h-16zM129.4 34h8v8h-8zM49.4 -30h8v8h-8zM73.4 -30h8v8h-8zM345.4 -46h8v8h-8z"/><path fill="#00fff5" d="M1.4 50h8v8h-8zM177.4 42h8v8h-8zM457.4 42h8v8h-8zM33.4 34h8v8h-8zM121.4 34h8v8h-8zM497.4 34h8v8h-8zM441.4 -22h8v8h-8zM1.4 -38h8v8h-8zM137.4 -38h8v8h-8z"/><path fill="#00c8ff" d="M209.4 50h8v8h-8zM49.4 42h8v8h-8zM497.4 42h8v8h-8zM521.4 34h8v8h-8zM529.4 10h8v8h-8zM33.4 -46h8v8h-8zM225.4 -54h8v8h-8z"/><path fill="#00ffd7" d="M-6.6 42h8v8h-8zM49.4 26h8v8h-8zM81.4 26h8v8h-8zM433.4 -22h8v8h-8zM25.4 -30h8v8h-8zM209.4 -46h8v8h-8zM337.4 -46h8v8h-8z"/><path fill="#00ffdc" d="M1.4 42h8v8h-8zM193.4 42h8v8h-8zM401.4 42h8v8h-8zM9.4 34h8v8h-8zM57.4 26h24v8h-24zM505.4 10h8v8h-8zM33.4 -30h8v8h-8zM97.4 -30h8v8h-8z"/><path fill="#00fff0" d="M9.4 42h8v8h-8zM449.4 42h8v8h-8zM25.4 34h8v8h-8zM513.4 18h8v8h-8zM465.4 -14h8v8h-8zM57.4 -30h16v8h-16zM-6.6 -38h8v8h-8zM193.4 -46h8v8h-8z"/><path fill="#00d7ff" d="M145.4 42h8v8h-8zM489.4 42h8v8h-8zM529.4 18h8v8h-8zM401.4 -38h8v8h-8zM17.4 -46h8v8h-8zM369.4 -46h8v8h-8zM249.4 -54h8v8h-8z"/><path fill="#00e6ff" d="M153.4 42h8v8h-8zM481.4 42h8v8h-8zM521.4 26h8v8h-8zM49.4 -38h8v8h-8zM97.4 -38h8v8h-8zM-6.6 -46h8v8h-8zM289.4 -54h16v8h-16z"/><path fill="#00ffe6" d="M185.4 42h8v8h-8zM417.4 42h16v8h-16zM17.4 34h8v8h-8zM489.4 34h8v8h-8zM41.4 -30h8v8h-8zM81.4 -30h8v8h-8zM145.4 -38h8v8h-8zM385.4 -38h8v8h-8zM201.4 -46h8v8h-8z"/><path fill="#00ffd2" d="M201.4 42h8v8h-8zM385.4 42h16v8h-16zM145.4 34h8v8h-8zM481.4 34h8v8h-8zM41.4 26h8v8h-8zM89.4 26h8v8h-8zM505.4 18h8v8h-8zM457.4 -14h8v8h-8zM9.4 -30h16v8h-16zM105.4 -30h8v8h-8zM153.4 -38h8v8h-8z"/><path fill="#00ffcd" d="M209.4 42h8v8h-8zM33.4 26h8v8h-8zM1.4 -30h8v8h-8zM377.4 -38h8v8h-8zM217.4 -46h8v8h-8z"/><path fill="#00ffc3" d="M217.4 42h8v8h-8zM-6.6 34h8v8h-8zM17.4 26h8v8h-8zM489.4 2h8v8h-8zM57.4 -22h16v8h-16zM161.4 -38h8v8h-8zM329.4 -46h8v8h-8z"/><path fill="#00ffbe" d="M225.4 42h8v8h-8zM369.4 42h8v8h-8zM153.4 34h8v8h-8zM473.4 34h8v8h-8zM9.4 26h8v8h-8zM105.4 26h8v8h-8zM497.4 10h8v8h-8zM473.4 -6h8v8h-8zM49.4 -22h8v8h-8zM121.4 -30h8v8h-8zM233.4 -46h8v8h-8z"/><path fill="#00ffb9" d="M233.4 42h88v8h-88zM361.4 42h8v8h-8zM33.4 -22h16v8h-16zM73.4 -22h8v8h-8zM401.4 -30h8v8h-8zM241.4 -46h8v8h-8z"/><path fill="#00ffb4" d="M321.4 42h40v8h-40zM113.4 26h8v8h-8zM57.4 18h16v8h-16zM497.4 18h8v8h-8zM449.4 -14h8v8h-8zM25.4 -22h8v8h-8zM81.4 -22h8v8h-8zM425.4 -22h8v8h-8zM249.4 -46h8v8h-8zM321.4 -46h8v8h-8z"/><path fill="#00ffc8" d="M377.4 42h8v8h-8zM1.4 34h8v8h-8zM25.4 26h8v8h-8zM97.4 26h8v8h-8zM497.4 26h8v8h-8zM-6.6 -30h8v8h-8zM113.4 -30h8v8h-8zM225.4 -46h8v8h-8z"/><path fill="#00ffe1" d="M409.4 42h8v8h-8zM137.4 34h8v8h-8zM505.4 26h8v8h-8zM497.4 2h8v8h-8zM481.4 -6h8v8h-8zM89.4 -30h8v8h-8zM409.4 -30h8v8h-8z"/><path fill="#00f5ff" d="M473.4 42h8v8h-8zM97.4 34h8v8h-8zM505.4 34h8v8h-8zM33.4 -38h8v8h-8zM121.4 -38h8v8h-8zM393.4 -38h8v8h-8zM177.4 -46h8v8h-8z"/><path fill="#00fffa" d="M113.4 34h8v8h-8zM9.4 -38h8v8h-8zM185.4 -46h8v8h-8z"/><path fill="#00ffaf" d="M161.4 34h8v8h-8zM1.4 26h8v8h-8zM489.4 26h8v8h-8zM41.4 18h16v8h-16zM73.4 18h8v8h-8zM17.4 -22h8v8h-8zM89.4 -22h8v8h-8zM129.4 -30h8v8h-8zM169.4 -38h8v8h-8zM369.4 -38h8v8h-8zM257.4 -46h8v8h-8z"/><path fill="#00ff9b" d="M169.4 34h8v8h-8zM457.4 34h8v8h-8zM129.4 26h8v8h-8zM1.4 18h16v8h-16zM465.4 -6h8v8h-8zM33.4 -14h16v8h-16zM65.4 -14h8v8h-8zM297.4 -46h8v8h-8z"/><path fill="#00ff8c" d="M177.4 34h8v8h-8zM441.4 34h8v8h-8zM137.4 26h8v8h-8zM17.4 10h16v8h-16zM73.4 10h8v8h-8zM57.4 2h8v8h-8zM41.4 -6h24v8h-24zM-6.6 -14h8v8h-8zM81.4 -14h8v8h-8zM145.4 -30h8v8h-8zM185.4 -38h8v8h-8z"/><path fill="#00ff78" d="M185.4 34h8v8h-8zM417.4 34h8v8h-8zM145.4 26h8v8h-8zM113.4 18h8v8h-8zM481.4 18h8v8h-8zM89.4 10h8v8h-8zM457.4 -6h8v8h-8zM97.4 -14h8v8h-8zM121.4 -22h8v8h-8z"/><path fill="#00ff69" d="M193.4 34h8v8h-8zM121.4 18h8v8h-8zM89.4 2h8v8h-8zM89.4 -6h8v8h-8zM409.4 -22h8v8h-8zM385.4 -30h8v8h-8z"/><path fill="#00ff5f" d="M201.4 34h8v8h-8zM153.4 26h8v8h-8zM161.4 -30h8v8h-8zM209.4 -38h8v8h-8zM345.4 -38h8v8h-8z"/><path fill="#00ff50" d="M209.4 34h8v8h-8zM385.4 34h8v8h-8zM457.4 26h8v8h-8zM129.4 18h8v8h-8zM113.4 -14h8v8h-8zM137.4 -22h8v8h-8zM217.4 -38h8v8h-8z"/><path fill="#00ff46" d="M217.4 34h8v8h-8zM377.4 34h8v8h-8zM113.4 10h8v8h-8zM105.4 2h8v8h-8zM105.4 -6h8v8h-8zM169.4 -30h8v8h-8zM377.4 -30h8v8h-8z"/><path fill="#00ff41" d="M225.4 34h8v8h-8zM449.4 26h8v8h-8zM121.4 -14h8v8h-8zM225.4 -38h8v8h-8z"/><path fill="#00ff37" d="M233.4 34h8v8h-8zM369.4 34h8v8h-8zM465.4 10h8v8h-8zM457.4 2h8v8h-8zM441.4 -6h8v8h-8zM145.4 -22h8v8h-8zM233.4 -38h8v8h-8zM329.4 -38h8v8h-8z"/><path fill="#00ff32" d="M241.4 34h16v8h-16zM361.4 34h8v8h-8zM169.4 26h8v8h-8zM441.4 26h8v8h-8zM121.4 10h8v8h-8zM113.4 -6h8v8h-8zM177.4 -30h8v8h-8z"/><path fill="#00ff2d" d="M257.4 34h64v8h-64zM113.4 2h8v8h-8zM241.4 -38h8v8h-8z"/><path fill="#00ff28" d="M321.4 34h16v8h-16zM353.4 34h8v8h-8zM129.4 -14h8v8h-8zM417.4 -14h8v8h-8zM249.4 -38h8v8h-8z"/><path fill="#00ff23" d="M337.4 34h16v8h-16zM433.4 26h8v8h-8zM145.4 18h8v8h-8zM369.4 -30h8v8h-8zM257.4 -38h8v8h-8zM321.4 -38h8v8h-8z"/><path fill="#00ff5a" d="M393.4 34h8v8h-8zM473.4 18h8v8h-8zM105.4 10h8v8h-8zM473.4 10h8v8h-8zM97.4 2h8v8h-8zM465.4 2h8v8h-8zM97.4 -6h8v8h-8zM449.4 -6h8v8h-8z"/><path fill="#00ff64" d="M401.4 34h8v8h-8zM465.4 26h8v8h-8zM105.4 -14h8v8h-8zM129.4 -22h8v8h-8z"/><path fill="#00ff6e" d="M409.4 34h8v8h-8zM97.4 10h8v8h-8zM433.4 -14h8v8h-8zM201.4 -38h8v8h-8z"/><path fill="#00ff7d" d="M425.4 34h8v8h-8zM473.4 26h8v8h-8zM481.4 10h8v8h-8zM-6.6 2h32v8h-32zM73.4 2h8v8h-8zM473.4 2h8v8h-8zM-6.6 -6h16v8h-16zM73.4 -6h8v8h-8zM193.4 -38h8v8h-8zM353.4 -38h8v8h-8z"/><path fill="#00ff82" d="M433.4 34h8v8h-8zM-6.6 10h8v8h-8zM81.4 10h8v8h-8zM25.4 2h16v8h-16zM9.4 -6h16v8h-16zM89.4 -14h8v8h-8z"/><path fill="#00ff91" d="M449.4 34h8v8h-8zM33.4 10h16v8h-16zM1.4 -14h24v8h-24zM441.4 -14h8v8h-8zM417.4 -22h8v8h-8zM393.4 -30h8v8h-8z"/><path fill="#00ffaa" d="M465.4 34h8v8h-8zM-6.6 26h8v8h-8zM121.4 26h8v8h-8zM33.4 18h8v8h-8zM-6.6 -22h24v8h-24zM265.4 -46h8v8h-8z"/><path fill="#00ff4b" d="M161.4 26h8v8h-8zM425.4 -14h8v8h-8zM337.4 -38h8v8h-8z"/><path fill="#00ff19" d="M177.4 26h8v8h-8zM425.4 26h8v8h-8zM129.4 10h8v8h-8zM121.4 2h8v8h-8zM153.4 -22h8v8h-8zM185.4 -30h8v8h-8zM273.4 -38h8v8h-8z"/><path fill="#00ff05" d="M185.4 26h8v8h-8zM129.4 -6h8v8h-8zM193.4 -30h8v8h-8zM361.4 -30h8v8h-8zM297.4 -38h8v8h-8z"/><path fill="#0fff00" d="M193.4 26h8v8h-8zM441.4 18h8v8h-8zM425.4 -6h8v8h-8zM145.4 -14h8v8h-8zM201.4 -30h8v8h-8z"/><path fill="#23ff00" d="M201.4 26h8v8h-8zM393.4 26h8v8h-8zM441.4 10h8v8h-8z"/><path fill="#32ff00" d="M209.4 26h8v8h-8zM385.4 26h8v8h-8zM425.4 18h8v8h-8zM417.4 -6h8v8h-8z"/><path fill="#41ff00" d="M217.4 26h8v8h-8zM377.4 -22h8v8h-8z"/><path fill="#4bff00" d="M225.4 26h8v8h-8zM177.4 18h8v8h-8zM425.4 2h8v8h-8zM161.4 -14h8v8h-8zM337.4 -30h8v8h-8z"/><path fill="#55ff00" d="M233.4 26h8v8h-8zM369.4 26h8v8h-8zM425.4 10h8v8h-8zM153.4 -6h8v8h-8zM185.4 -22h8v8h-8zM233.4 -30h8v8h-8z"/><path fill="#5aff00" d="M241.4 26h8v8h-8zM409.4 18h8v8h-8zM161.4 10h8v8h-8zM153.4 2h8v8h-8z"/><path fill="#5fff00" d="M249.4 26h8v8h-8zM361.4 26h8v8h-8zM409.4 -6h8v8h-8zM241.4 -30h8v8h-8z"/><path fill="#64ff00" d="M257.4 26h24v8h-24zM185.4 18h8v8h-8zM393.4 -14h8v8h-8zM329.4 -30h8v8h-8z"/><path fill="#69ff00" d="M281.4 26h32v8h-32zM353.4 26h8v8h-8zM417.4 2h8v8h-8zM369.4 -22h8v8h-8zM249.4 -30h8v8h-8z"/><path fill="#6eff00" d="M313.4 26h8v8h-8zM417.4 10h8v8h-8zM169.4 -14h8v8h-8zM193.4 -22h8v8h-8z"/><path fill="#73ff00" d="M321.4 26h32v8h-32zM257.4 -30h8v8h-8z"/><path fill="#46ff00" d="M377.4 26h8v8h-8zM417.4 18h8v8h-8zM225.4 -30h8v8h-8z"/><path fill="#14ff00" d="M401.4 26h8v8h-8zM161.4 18h8v8h-8z"/><path fill="#00ff00" d="M409.4 26h8v8h-8zM137.4 10h8v8h-8zM129.4 2h8v8h-8zM161.4 -22h8v8h-8zM305.4 -38h8v8h-8z"/><path fill="#00ff0f" d="M417.4 26h8v8h-8zM137.4 -14h8v8h-8zM393.4 -22h8v8h-8zM313.4 -38h8v8h-8z"/><path fill="#00ff96" d="M481.4 26h8v8h-8zM-6.6 18h8v8h-8zM97.4 18h8v8h-8zM489.4 18h8v8h-8zM49.4 10h24v8h-24zM25.4 -14h8v8h-8zM73.4 -14h8v8h-8zM105.4 -22h8v8h-8zM361.4 -38h8v8h-8zM305.4 -46h8v8h-8z"/><path fill="#00ffa0" d="M17.4 18h8v8h-8zM89.4 18h8v8h-8zM489.4 10h8v8h-8zM481.4 2h8v8h-8zM49.4 -14h16v8h-16zM137.4 -30h8v8h-8zM177.4 -38h8v8h-8zM281.4 -46h16v8h-16zM313.4 -46h8v8h-8z"/><path fill="#00ffa5" d="M25.4 18h8v8h-8zM81.4 18h8v8h-8zM97.4 -22h8v8h-8zM273.4 -46h8v8h-8z"/><path fill="#00ff87" d="M105.4 18h8v8h-8zM1.4 10h16v8h-16zM41.4 2h16v8h-16zM65.4 2h8v8h-8zM25.4 -6h16v8h-16zM65.4 -6h8v8h-8zM113.4 -22h8v8h-8z"/><path fill="#00ff3c" d="M137.4 18h8v8h-8zM465.4 18h8v8h-8zM401.4 -22h8v8h-8z"/><path fill="#00ff0a" d="M153.4 18h8v8h-8zM449.4 18h8v8h-8zM289.4 -38h8v8h-8z"/><path fill="#2dff00" d="M169.4 18h8v8h-8zM153.4 -14h8v8h-8z"/><path fill="#7dff00" d="M193.4 18h8v8h-8zM161.4 2h8v8h-8zM273.4 -30h8v8h-8z"/><path fill="#96ff00" d="M201.4 18h8v8h-8zM177.4 10h8v8h-8zM385.4 -14h8v8h-8zM305.4 -30h8v8h-8z"/><path fill="#aaff00" d="M209.4 18h8v8h-8zM185.4 -14h8v8h-8zM353.4 -22h8v8h-8z"/><path fill="#b9ff00" d="M217.4 18h8v8h-8zM377.4 18h8v8h-8zM185.4 10h8v8h-8zM401.4 2h8v8h-8z"/><path fill="#c8ff00" d="M225.4 18h8v8h-8zM193.4 -14h8v8h-8zM225.4 -22h8v8h-8zM345.4 -22h8v8h-8z"/><path fill="#d7ff00" d="M233.4 18h8v8h-8zM233.4 -22h8v8h-8z"/><path fill="#e1ff00" d="M241.4 18h8v8h-8zM361.4 18h8v8h-8zM185.4 2h8v8h-8zM393.4 2h8v8h-8zM369.4 -14h8v8h-8zM337.4 -22h8v8h-8z"/><path fill="#e6ff00" d="M249.4 18h8v8h-8zM385.4 -6h8v8h-8zM201.4 -14h8v8h-8zM241.4 -22h8v8h-8z"/><path fill="#ebff00" d="M257.4 18h8v8h-8zM201.4 10h8v8h-8z"/><path fill="#f0ff00" d="M265.4 18h16v8h-16zM353.4 18h8v8h-8zM385.4 10h8v8h-8zM249.4 -22h8v8h-8z"/><path fill="#f5ff00" d="M281.4 18h16v8h-16zM329.4 -22h8v8h-8z"/><path fill="#faff00" d="M297.4 18h16v8h-16zM193.4 -6h8v8h-8zM257.4 -22h8v8h-8z"/><path fill="#ffff00" d="M313.4 18h40v8h-40zM193.4 2h8v8h-8zM209.4 -14h8v8h-8zM265.4 -22h8v8h-8z"/><path fill="#d2ff00" d="M369.4 18h8v8h-8zM193.4 10h8v8h-8zM393.4 10h8v8h-8z"/><path fill="#a5ff00" d="M385.4 18h8v8h-8z"/><path fill="#91ff00" d="M393.4 18h8v8h-8zM409.4 2h8v8h-8zM297.4 -30h8v8h-8z"/><path fill="#78ff00" d="M401.4 18h8v8h-8zM169.4 10h8v8h-8zM161.4 -6h8v8h-8zM265.4 -30h8v8h-8zM321.4 -30h8v8h-8z"/><path fill="#1eff00" d="M433.4 18h8v8h-8zM137.4 2h8v8h-8zM169.4 -22h8v8h-8zM385.4 -22h8v8h-8z"/><path fill="#00ff1e" d="M457.4 18h8v8h-8zM121.4 -6h8v8h-8zM265.4 -38h8v8h-8z"/><path fill="#19ff00" d="M145.4 10h8v8h-8zM137.4 -6h8v8h-8zM353.4 -30h8v8h-8z"/><path fill="#37ff00" d="M153.4 10h8v8h-8zM145.4 2h8v8h-8zM145.4 -6h8v8h-8zM401.4 -14h8v8h-8zM177.4 -22h8v8h-8zM217.4 -30h8v8h-8zM345.4 -30h8v8h-8z"/><path fill="#fffa00" d="M209.4 10h8v8h-8zM361.4 -14h8v8h-8z"/><path fill="#ffe600" d="M217.4 10h8v8h-8zM201.4 -6h8v8h-8zM217.4 -14h8v8h-8zM313.4 -22h8v8h-8z"/><path fill="#ffd200" d="M225.4 10h8v8h-8zM369.4 10h8v8h-8zM377.4 2h8v8h-8zM225.4 -14h8v8h-8z"/><path fill="#ffc300" d="M233.4 10h8v8h-8z"/><path fill="#ffb900" d="M241.4 10h8v8h-8z"/><path fill="#ffaf00" d="M249.4 10h8v8h-8zM217.4 2h8v8h-8zM369.4 2h8v8h-8z"/><path fill="#ffaa00" d="M257.4 10h8v8h-8zM353.4 10h8v8h-8zM361.4 -6h8v8h-8zM249.4 -14h8v8h-8zM337.4 -14h8v8h-8z"/><path fill="#ffa000" d="M265.4 10h16v8h-16zM225.4 -6h8v8h-8zM257.4 -14h8v8h-8z"/><path fill="#ff9b00" d="M281.4 10h8v8h-8zM345.4 10h8v8h-8zM225.4 2h8v8h-8zM329.4 -14h8v8h-8z"/><path fill="#ff9600" d="M289.4 10h8v8h-8zM337.4 10h8v8h-8zM361.4 2h8v8h-8zM265.4 -14h8v8h-8z"/><path fill="#ff9100" d="M297.4 10h8v8h-8zM329.4 10h8v8h-8zM353.4 -6h8v8h-8zM273.4 -14h8v8h-8z"/><path fill="#ff8c00" d="M305.4 10h24v8h-24zM233.4 2h8v8h-8z"/><path fill="#ffbe00" d="M361.4 10h8v8h-8zM233.4 -14h8v8h-8zM345.4 -14h8v8h-8z"/><path fill="#fff000" d="M377.4 10h8v8h-8zM377.4 -6h8v8h-8zM281.4 -22h8v8h-8z"/><path fill="#afff00" d="M401.4 10h8v8h-8z"/><path fill="#8cff00" d="M409.4 10h8v8h-8zM401.4 -6h8v8h-8zM177.4 -14h8v8h-8zM361.4 -22h8v8h-8zM289.4 -30h8v8h-8zM313.4 -30h8v8h-8z"/><path fill="#3cff00" d="M433.4 10h8v8h-8z"/><path fill="#05ff00" d="M449.4 10h8v8h-8zM409.4 -14h8v8h-8z"/><path fill="#00ff14" d="M457.4 10h8v8h-8zM449.4 2h8v8h-8zM433.4 -6h8v8h-8zM281.4 -38h8v8h-8z"/><path fill="#00ff73" d="M81.4 2h8v8h-8zM81.4 -6h8v8h-8zM153.4 -30h8v8h-8z"/><path fill="#a0ff00" d="M169.4 2h8v8h-8zM209.4 -22h8v8h-8z"/><path fill="#beff00" d="M177.4 2h8v8h-8zM177.4 -6h8v8h-8zM393.4 -6h8v8h-8zM377.4 -14h8v8h-8z"/><path fill="#ffe100" d="M201.4 2h8v8h-8zM297.4 -22h8v8h-8z"/><path fill="#ffc800" d="M209.4 2h8v8h-8zM209.4 -6h8v8h-8zM369.4 -6h8v8h-8z"/><path fill="#ff7d00" d="M241.4 2h8v8h-8zM353.4 2h8v8h-8zM241.4 -6h8v8h-8zM313.4 -14h8v8h-8z"/><path fill="#ff7300" d="M249.4 2h8v8h-8zM249.4 -6h8v8h-8zM345.4 -6h8v8h-8zM305.4 -14h8v8h-8z"/><path fill="#ff6900" d="M257.4 2h8v8h-8zM345.4 2h8v8h-8zM257.4 -6h8v8h-8z"/><path fill="#ff6400" d="M265.4 2h8v8h-8zM337.4 -6h8v8h-8z"/><path fill="#ff5f00" d="M273.4 2h8v8h-8zM337.4 2h8v8h-8zM265.4 -6h8v8h-8z"/><path fill="#ff5a00" d="M281.4 2h8v8h-8zM273.4 -6h8v8h-8zM329.4 -6h8v8h-8z"/><path fill="#ff5000" d="M289.4 2h8v8h-8zM281.4 -6h8v8h-8z"/><path fill="#ff4b00" d="M297.4 2h8v8h-8zM313.4 2h16v8h-16zM289.4 -6h8v8h-8zM321.4 -6h8v8h-8z"/><path fill="#ff4600" d="M305.4 2h8v8h-8zM297.4 -6h8v8h-8z"/><path fill="#ff5500" d="M329.4 2h8v8h-8z"/><path fill="#fff500" d="M385.4 2h8v8h-8zM273.4 -22h8v8h-8zM321.4 -22h8v8h-8z"/><path fill="#28ff00" d="M433.4 2h8v8h-8zM209.4 -30h8v8h-8z"/><path fill="#0aff00" d="M441.4 2h8v8h-8z"/><path fill="#9bff00" d="M169.4 -6h8v8h-8z"/><path fill="#dcff00" d="M185.4 -6h8v8h-8z"/><path fill="#ffb400" d="M217.4 -6h8v8h-8zM241.4 -14h8v8h-8z"/><path fill="#ff8700" d="M233.4 -6h8v8h-8zM281.4 -14h8v8h-8zM321.4 -14h8v8h-8z"/><path fill="#ff3c00" d="M305.4 -6h8v8h-8z"/><path fill="#ff4100" d="M313.4 -6h8v8h-8z"/><path fill="#ff8200" d="M289.4 -14h8v8h-8z"/><path fill="#ff7800" d="M297.4 -14h8v8h-8z"/><path fill="#ffdc00" d="M353.4 -14h8v8h-8zM305.4 -22h8v8h-8z"/><path fill="#87ff00" d="M201.4 -22h8v8h-8zM281.4 -30h8v8h-8z"/><path fill="#b4ff00" d="M217.4 -22h8v8h-8z"/><path fill="#ffeb00" d="M289.4 -22h8v8h-8z"/></g><rect x="9.4" y="-325.6" width="776.3" height="647.6" fill="url(#grd)"/></g><rect x="3.5" y="-331.5" width="788.1" height="659.4" fill="none" stroke="#000" stroke-width="4"/><path d="M3.5 327.9v28M134.8 327.9v13M266.2 327.9v28M397.5 327.9v13M528.9 327.9v28M660.2 327.9v13M791.5 327.9v28M3.5 260h-30M3.5 130h-30M3.5 0h-30M3.5 -130h-30M3.5 -260h-30" stroke="#000" stroke-width="4" fill="none"/><path d="M0 0L652.6 2.5" stroke="#000" stroke-width="3.2"/></g><path d="M3021.1 75.4V799M2849.4 325.8H3934.5" stroke="#231f20" stroke-width="3.8" fill="none"/><text transform="translate(2780 448) rotate(45)" font-size="45" text-anchor="middle" dy="16">-40</text><text transform="translate(2868 356) rotate(45)" font-size="45" text-anchor="middle" dy="16">-20</text><text transform="translate(2997 298) rotate(45)" font-size="45" text-anchor="middle" dy="16">0</text><text transform="translate(3055 176) rotate(45)" font-size="45" text-anchor="middle" dy="16">20</text><text transform="translate(3148 85) rotate(45)" font-size="45" text-anchor="middle" dy="16">40</text><text transform="translate(2742 619) rotate(45)" font-size="45" text-anchor="middle" dy="16">0</text><text transform="translate(2920 793) rotate(45)" font-size="45" text-anchor="middle" dy="16">40</text><text transform="translate(3100.6 973.7) rotate(45)" font-size="45" text-anchor="middle" dy="16">80</text><text transform="translate(3287 1155) rotate(45)" font-size="45" text-anchor="middle" dy="16">120</text><text x="2684" y="130.4" font-size="49">c)</text><text x="2960" y="44" font-size="51">μ</text><text x="2984" y="66" font-size="46">o</text><text x="3013.5" y="44" font-size="45">H</text><text x="3051" y="67.6" font-size="45">a</text><text x="3897.5" y="286" font-size="51">μ</text><text x="3922" y="307.2" font-size="46">o</text><text x="3952" y="286" font-size="45">H</text><text x="3989.8" y="309.5" font-size="45">b</text><g transform="translate(2843.2 278.5) rotate(-45)"><text x="-13" y="11" font-size="51">μ</text><text x="18.5" y="31" font-size="46">o</text><text x="37.5" y="11" font-size="45">H</text><text x="77.5" y="30" font-size="45">u</text><text x="96.6" y="12" font-size="45" textLength="93.7" lengthAdjust="spacingAndGlyphs">(mT)</text></g><g transform="translate(2893.7 879.1) rotate(45)"><text x="-13" y="11" font-size="51">μ</text><text x="16.8" y="31" font-size="46">o</text><text x="38.3" y="11" font-size="45">H</text><text x="77.3" y="30" font-size="45">c</text><text x="103.7" y="12" font-size="45" textLength="89.5" lengthAdjust="spacingAndGlyphs">(mT)</text></g>
</svg></body></html>
